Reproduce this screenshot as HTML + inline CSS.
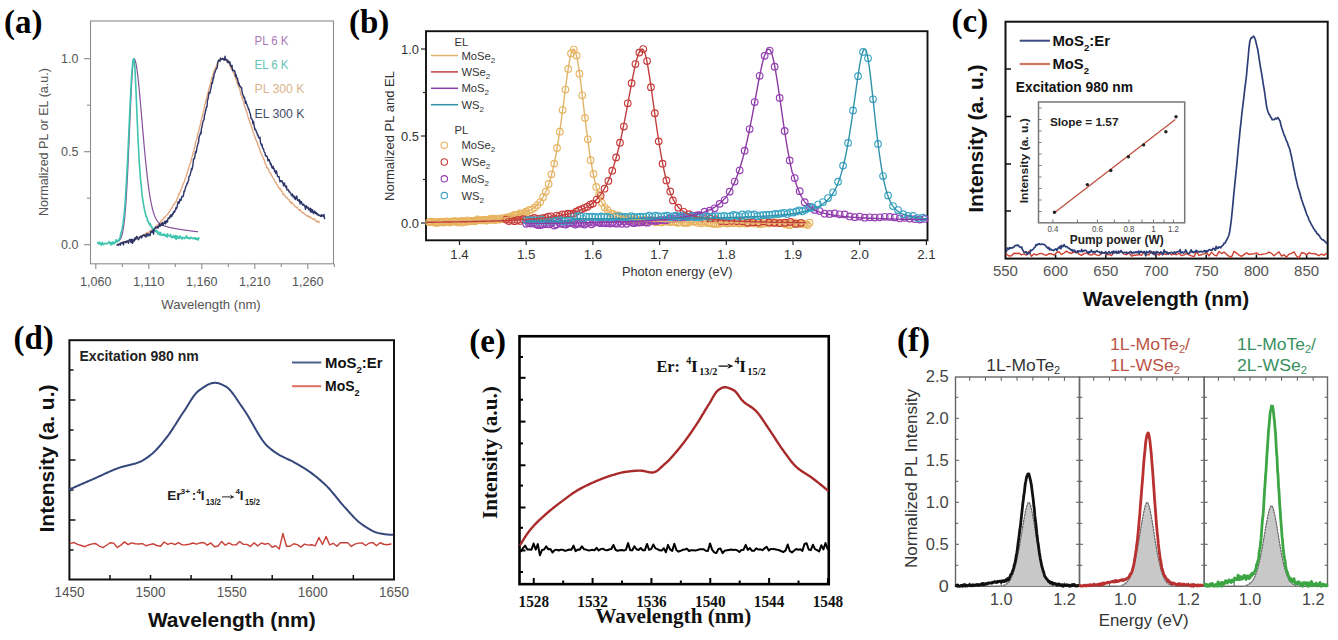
<!DOCTYPE html>
<html><head><meta charset="utf-8"><style>html,body{margin:0;padding:0;background:#fff;overflow:hidden;}svg{display:block;}</style></head>
<body><svg width="1338" height="640" viewBox="0 0 1338 640">
<rect x="0" y="0" width="1338" height="640" fill="#fff"/>
<text x="4" y="32.5" font-family="'Liberation Serif', serif" font-size="33" fill="#000" font-weight="bold" >(a)</text>
<rect x="90.5" y="21" width="243" height="242.8" fill="none" stroke="#8c8c8c" stroke-width="1.1"/>
<line x1="84" y1="244.7" x2="90.5" y2="244.7" stroke="#8c8c8c" stroke-width="1.1" />
<line x1="84" y1="151.7" x2="90.5" y2="151.7" stroke="#8c8c8c" stroke-width="1.1" />
<line x1="84" y1="58.7" x2="90.5" y2="58.7" stroke="#8c8c8c" stroke-width="1.1" />
<line x1="87" y1="198.2" x2="90.5" y2="198.2" stroke="#8c8c8c" stroke-width="1.1" />
<line x1="87" y1="105.2" x2="90.5" y2="105.2" stroke="#8c8c8c" stroke-width="1.1" />
<line x1="95.8" y1="263.8" x2="95.8" y2="269" stroke="#8c8c8c" stroke-width="1.1" />
<line x1="148.8" y1="263.8" x2="148.8" y2="269" stroke="#8c8c8c" stroke-width="1.1" />
<line x1="201.8" y1="263.8" x2="201.8" y2="269" stroke="#8c8c8c" stroke-width="1.1" />
<line x1="254.8" y1="263.8" x2="254.8" y2="269" stroke="#8c8c8c" stroke-width="1.1" />
<line x1="307.8" y1="263.8" x2="307.8" y2="269" stroke="#8c8c8c" stroke-width="1.1" />
<line x1="122.3" y1="263.8" x2="122.3" y2="267" stroke="#8c8c8c" stroke-width="1.1" />
<line x1="175.3" y1="263.8" x2="175.3" y2="267" stroke="#8c8c8c" stroke-width="1.1" />
<line x1="228.3" y1="263.8" x2="228.3" y2="267" stroke="#8c8c8c" stroke-width="1.1" />
<line x1="281.3" y1="263.8" x2="281.3" y2="267" stroke="#8c8c8c" stroke-width="1.1" />
<line x1="334.3" y1="263.8" x2="334.3" y2="267" stroke="#8c8c8c" stroke-width="1.1" />
<text x="78.5" y="249.2" font-family="'Liberation Sans', sans-serif" font-size="12.5" fill="#555" text-anchor="end" >0.0</text>
<text x="78.5" y="156.2" font-family="'Liberation Sans', sans-serif" font-size="12.5" fill="#555" text-anchor="end" >0.5</text>
<text x="78.5" y="63.2" font-family="'Liberation Sans', sans-serif" font-size="12.5" fill="#555" text-anchor="end" >1.0</text>
<text x="95.8" y="286" font-family="'Liberation Sans', sans-serif" font-size="12.5" fill="#555" text-anchor="middle" textLength="31.5" lengthAdjust="spacingAndGlyphs" >1,060</text>
<text x="148.8" y="286" font-family="'Liberation Sans', sans-serif" font-size="12.5" fill="#555" text-anchor="middle" textLength="31.5" lengthAdjust="spacingAndGlyphs" >1,110</text>
<text x="201.8" y="286" font-family="'Liberation Sans', sans-serif" font-size="12.5" fill="#555" text-anchor="middle" textLength="31.5" lengthAdjust="spacingAndGlyphs" >1,160</text>
<text x="254.8" y="286" font-family="'Liberation Sans', sans-serif" font-size="12.5" fill="#555" text-anchor="middle" textLength="31.5" lengthAdjust="spacingAndGlyphs" >1,210</text>
<text x="307.8" y="286" font-family="'Liberation Sans', sans-serif" font-size="12.5" fill="#555" text-anchor="middle" textLength="31.5" lengthAdjust="spacingAndGlyphs" >1,260</text>
<text x="211" y="309" font-family="'Liberation Sans', sans-serif" font-size="13" fill="#555" text-anchor="middle" textLength="99.5" lengthAdjust="spacingAndGlyphs" >Wavelength (nm)</text>
<text x="47.5" y="142" font-family="'Liberation Sans', sans-serif" font-size="12.6" fill="#555" text-anchor="middle" textLength="148" lengthAdjust="spacingAndGlyphs" transform="rotate(-90 47.5 142)" >Normalized PL or EL (a.u.)</text>
<text x="254.5" y="44.5" font-family="'Liberation Sans', sans-serif" font-size="12.3" fill="#a878b8" textLength="34" lengthAdjust="spacingAndGlyphs" >PL 6 K</text>
<text x="254.5" y="68.5" font-family="'Liberation Sans', sans-serif" font-size="12.3" fill="#66c4b4" textLength="34" lengthAdjust="spacingAndGlyphs" >EL 6 K</text>
<text x="254.5" y="93" font-family="'Liberation Sans', sans-serif" font-size="12.3" fill="#dcb48a" textLength="50" lengthAdjust="spacingAndGlyphs" >PL 300 K</text>
<text x="254.5" y="117.5" font-family="'Liberation Sans', sans-serif" font-size="12.3" fill="#3e4c66" textLength="50" lengthAdjust="spacingAndGlyphs" >EL 300 K</text>
<polyline points="117,244.7 117.6,244.15 118.2,244.22 118.8,244.34 119.4,243.9 120,244.01 120.6,243.23 121.2,242.34 121.8,243.18 122.4,243.08 123,242.29 123.6,242.19 124.2,242.15 124.8,242.56 125.4,241.88 126,241.3 126.6,242.26 127.2,241.59 127.8,242.21 128.4,241.69 129,241.82 129.6,240.73 130.2,241.12 130.8,240.07 131.4,239.94 132,239.94 132.6,241.04 133.2,239.73 133.8,239.25 134.4,238.95 135,239.65 135.6,238.85 136.2,238.91 136.8,238.58 137.4,237.31 138,238.12 138.6,237.44 139.2,236.68 139.8,237.25 140.4,236.73 141,236.34 141.6,236.1 142.2,236.54 142.8,235.53 143.4,234.52 144,235.84 144.6,234.19 145.2,234.29 145.8,234.39 146.4,232.58 147,232.93 147.6,233.67 148.2,232.6 148.8,231.94 149.4,231.99 150,231.1 150.6,231.11 151.2,230.28 151.8,229.42 152.4,230.15 153,229.19 153.6,229.09 154.2,228.26 154.8,228.49 155.4,227.62 156,226.86 156.6,225.68 157.2,224.96 157.8,225.73 158.4,224.81 159,223.36 159.6,224.16 160.2,222.61 160.8,221.69 161.4,220.19 162,219.73 162.6,219.73 163.2,219.17 163.8,218.5 164.4,216.88 165,217.32 165.6,216.58 166.2,215.53 166.8,215.08 167.4,214.38 168,214.13 168.6,212.73 169.2,212.16 169.8,210.43 170.4,209.85 171,209.33 171.6,208.03 172.2,207.64 172.8,205.89 173.4,205.47 174,204.1 174.6,204.08 175.2,202.06 175.8,202.06 176.4,201.09 177,198.92 177.6,198.02 178.2,196.16 178.8,193.69 179.4,194.07 180,192.57 180.6,190.7 181.2,189.09 181.8,187.97 182.4,186.46 183,184.4 183.6,182.9 184.2,182.13 184.8,179.92 185.4,178.14 186,176.99 186.6,174.47 187.2,173.26 187.8,170.37 188.4,168.9 189,167.01 189.6,165.41 190.2,163.13 190.8,162.12 191.4,159.55 192,156.59 192.6,155.82 193.2,151.97 193.8,151.19 194.4,147.53 195,146.14 195.6,142.91 196.2,140.93 196.8,139.48 197.4,135.53 198,133 198.6,131.4 199.2,129.06 199.8,126.52 200.4,124.48 201,120.82 201.6,119.23 202.2,116.43 202.8,114.33 203.4,111.71 204,109.56 204.6,105.64 205.2,103.93 205.8,100.82 206.4,98.89 207,96.85 207.6,94.23 208.2,91.99 208.8,89.33 209.4,87.26 210,84.97 210.6,83.39 211.2,80.94 211.8,77.51 212.4,76.82 213,75.12 213.6,72.52 214.2,70.19 214.8,70.14 215.4,67.91 216,66.71 216.6,66.01 217.2,63.41 217.8,62.74 218.4,61.72 219,61.34 219.6,59.96 220.2,59.94 220.8,59.28 221.4,59.51 222,59.41 222.6,57.97 223.2,59.09 223.8,58.82 224.4,59.27 225,59.85 225.6,60.33 226.2,60.22 226.8,61.35 227.4,61.96 228,62.64 228.6,62.85 229.2,64.06 229.8,65.23 230.4,66.83 231,68.44 231.6,68.35 232.2,69.61 232.8,71.56 233.4,72.58 234,73.89 234.6,75.36 235.2,76.85 235.8,79.21 236.4,79.74 237,82.94 237.6,83.47 238.2,85.41 238.8,86.96 239.4,88.18 240,90.21 240.6,93.51 241.2,95.66 241.8,96.12 242.4,99.01 243,100.34 243.6,101.75 244.2,105.03 244.8,107.18 245.4,107.75 246,109.77 246.6,111.82 247.2,113.54 247.8,115.92 248.4,118.16 249,119.26 249.6,121.56 250.2,123.77 250.8,124.39 251.4,126.52 252,128.05 252.6,130.6 253.2,132.17 253.8,134.1 254.4,135.76 255,136.85 255.6,139.08 256.2,140.1 256.8,141.75 257.4,142.43 258,145.94 258.6,146.24 259.2,148.34 259.8,149.83 260.4,152.14 261,153.07 261.6,153.86 262.2,155.77 262.8,157.1 263.4,158.7 264,159.27 264.6,161.28 265.2,163.83 265.8,164.3 266.4,166.3 267,168.28 267.6,168.01 268.2,168.19 268.8,170.11 269.4,171.98 270,173.01 270.6,173 271.2,174.66 271.8,175.83 272.4,176.97 273,177.98 273.6,178.6 274.2,179.76 274.8,180.96 275.4,182.65 276,182.76 276.6,184.38 277.2,184.33 277.8,186.57 278.4,186.84 279,187.66 279.6,189.26 280.2,188.42 280.8,189.41 281.4,191.31 282,191.43 282.6,192.44 283.2,194.9 283.8,194.07 284.4,194.99 285,195.65 285.6,197.03 286.2,197.29 286.8,197.94 287.4,197.87 288,199.02 288.6,199.87 289.2,199.67 289.8,201.47 290.4,202.01 291,203.42 291.6,202.14 292.2,203.07 292.8,203.68 293.4,204.4 294,205.27 294.6,205.77 295.2,206.57 295.8,207.08 296.4,207.47 297,207.17 297.6,208.21 298.2,209.05 298.8,209.84 299.4,210.35 300,209.57 300.6,210.65 301.2,211.36 301.8,212.04 302.4,212.91 303,212.76 303.6,212.66 304.2,213.79 304.8,214.11 305.4,214.52 306,214.73 306.6,216.08 307.2,215.71 307.8,216.43 308.4,215.84 309,217.13 309.6,216.74 310.2,216.57 310.8,217.95 311.4,218.45 312,218.35 312.6,218.8 313.2,219.68 313.8,219.19 314.4,218.64 315,220.23 315.6,220.51 316.2,221.28 316.8,220.82 317.4,221.99 318,222.2 318.6,221.16 319.2,222.66" fill="none" stroke="#e2a47a" stroke-width="1.3" stroke-linejoin="round" stroke-linecap="round" />
<polyline points="119,240.75 119.5,240.23 120,239.59 120.5,238.77 121,237.75 121.5,236.46 122,234.85 122.5,232.84 123,230.37 123.5,227.36 124,223.73 124.5,219.38 125,214.26 125.5,208.29 126,201.43 126.5,193.66 127,184.96 127.5,175.4 128,165.03 128.5,153.98 129,142.41 129.5,130.54 130,118.6 130.5,106.89 131,95.73 131.5,85.45 132,76.41 132.5,68.93 133,63.34 133.5,59.87 134,58.7 134.5,59.02 135,59.98 135.5,61.57 136,63.75 136.5,66.5 137,69.78 137.5,73.55 138,77.75 138.5,82.34 139,87.26 139.5,92.47 140,97.91 140.5,103.52 141,109.27 141.5,115.1 142,120.97 142.5,126.84 143,132.67 143.5,138.42 144,144.07 144.5,149.59 145,154.95 145.5,160.13 146,165.11 146.5,169.87 147,174.42 147.5,178.73 148,182.8 148.5,186.63 149,190.22 149.5,193.58 150,196.69 150.5,199.58 151,202.24 151.5,204.69 152,206.94 152.5,208.99 153,210.85 153.5,212.55 154,214.08 154.5,215.46 155,216.71 155.5,217.83 156,218.83 156.5,219.73 157,220.53 157.5,221.24 158,221.88 158.5,222.44 159,222.94 159.5,223.39 160,223.79 160.5,224.14 161,224.46 161.5,224.74 162,224.99 162.5,225.21 163,225.42 163.5,225.6 164,225.77 164.5,225.92 165,226.05 165.5,226.23 166,226.39 166.5,226.55 167,226.69 167.5,226.83 168,226.97 168.5,227.1 169,227.22 169.5,227.34 170,227.46 170.5,227.57 171,227.68 171.5,227.79 172,227.89 172.5,227.99 173,228.09 173.5,228.19 174,228.29 174.5,228.38 175,228.48 175.5,228.57 176,228.66 176.5,228.75 177,228.83 177.5,228.92 178,229 178.5,229.09 179,229.17 179.5,229.25 180,229.33 180.5,229.41 181,229.49 181.5,229.57 182,229.64 182.5,229.72 183,229.79 183.5,229.87 184,229.94 184.5,230.01 185,230.09 185.5,230.16 186,230.23 186.5,230.3 187,230.37 187.5,230.44 188,230.5 188.5,230.57 189,230.64 189.5,230.71 190,230.77 190.5,230.84 191,230.9 191.5,230.97 192,231.03 192.5,231.1 193,231.16 193.5,231.23 194,231.29 194.5,231.35 195,231.41 195.5,231.48 196,231.54 196.5,231.6 197,231.66 197.5,231.72" fill="none" stroke="#86509a" stroke-width="1.2" stroke-linejoin="round" stroke-linecap="round" />
<polyline points="97.6,243 98.1,242.57 98.6,243.72 99.1,243.43 99.6,242.11 100.1,244.08 100.6,244.42 101.1,245.1 101.6,243.78 102.1,242.42 102.6,242.88 103.1,244.61 103.6,244.5 104.1,244.14 104.6,243.37 105.1,243.79 105.6,243.37 106.1,243.25 106.6,243.76 107.1,243.48 107.6,243.2 108.1,243.42 108.6,242.83 109.1,241.51 109.6,242.63 110.1,243.06 110.6,244.6 111.1,242.62 111.6,244.7 112.1,244.12 112.6,241.95 113.1,241.99 113.6,242.67 114.1,243.98 114.6,242.61 115.1,242.74 115.6,241.35 116.1,239.66 116.6,241.27 117.1,241.87 117.6,241.85 118.1,240.36 118.6,239.9 119.1,240.06 119.6,238.03 120.1,238.06 120.6,234.69 121.1,233.07 121.6,231.03 122.1,229.92 122.6,226.12 123.1,223.15 123.6,219.22 124.1,214.35 124.6,209.51 125.1,203.25 125.6,194.55 126.1,187.3 126.6,178.36 127.1,168.53 127.6,159.91 128.1,148.84 128.6,137.49 129.1,126.32 129.6,115.48 130.1,104.33 130.6,94.25 131.1,84.98 131.6,76.52 132.1,69.37 132.6,63.99 133.1,60.43 133.6,58.79 134.1,59.65 134.6,64.15 135.1,71.95 135.6,82.07 136.1,93.79 136.6,105.11 137.1,117.85 137.6,128.75 138.1,140.33 138.6,149.77 139.1,159.52 139.6,166.74 140.1,172.93 140.6,180.48 141.1,184.48 141.6,189.79 142.1,195.04 142.6,198.47 143.1,201.83 143.6,204.53 144.1,207.59 144.6,210.23 145.1,211.99 145.6,214.51 146.1,216.48 146.6,217.07 147.1,217.74 147.6,221.04 148.1,220.96 148.6,222.6 149.1,223.88 149.6,223.24 150.1,225.25 150.6,224.29 151.1,226.97 151.6,226.62 152.1,227.76 152.6,228.79 153.1,228.15 153.6,229.29 154.1,229.08 154.6,230.08 155.1,231.4 155.6,230.9 156.1,231.12 156.6,230.64 157.1,232.61 157.6,232.13 158.1,233.91 158.6,232.05 159.1,233.85 159.6,234.73 160.1,233.38 160.6,232.54 161.1,235.1 161.6,234.9 162.1,234.76 162.6,235.28 163.1,234.08 163.6,235.3 164.1,235.37 164.6,234.33 165.1,235.67 165.6,234.72 166.1,236.12 166.6,236.45 167.1,237.13 167.6,233.87 168.1,235.96 168.6,235.54 169.1,235.88 169.6,235.8 170.1,235.98 170.6,234.36 171.1,237.14 171.6,237.69 172.1,237.26 172.6,237.63 173.1,235.79 173.6,235.79 174.1,237.48 174.6,237.94 175.1,237.05 175.6,235.5 176.1,239.42 176.6,236.4 177.1,237.92 177.6,236.03 178.1,238.02 178.6,237.34 179.1,238.51 179.6,238.06 180.1,235.93 180.6,236.49 181.1,237.65 181.6,238.12 182.1,239.1 182.6,237.76 183.1,237.46 183.6,237.54 184.1,237.58 184.6,238.56 185.1,237.62 185.6,237.62 186.1,236.43 186.6,235.92 187.1,237.8 187.6,238.4 188.1,237.78 188.6,238.31 189.1,238.46 189.6,237.85 190.1,238.78 190.6,237.28 191.1,237.96 191.6,237.66 192.1,238.08 192.6,238.6 193.1,238.82 193.6,238.19 194.1,238.49 194.6,237.79 195.1,238.03 195.6,239.3 196.1,237.99 196.6,239.32 197.1,238.66 197.6,238.38 198.1,240.04 198.6,238.05 199.1,238.01" fill="none" stroke="#3cc4ae" stroke-width="1.6" stroke-linejoin="round" stroke-linecap="round" />
<polyline points="117,244.91 117.5,244.94 118,244.68 118.5,245.29 119,244.21 119.5,244.42 120,243.44 120.5,244.98 121,242.97 121.5,242.95 122,243.19 122.5,243.44 123,242.02 123.5,244.77 124,241.87 124.5,242.02 125,241.84 125.5,241.57 126,242.79 126.5,242.14 127,240.84 127.5,240.97 128,241.13 128.5,243.23 129,240.42 129.5,239.45 130,239.52 130.5,240.39 131,242.57 131.5,239.17 132,240.44 132.5,243.4 133,239.45 133.5,241.73 134,241.32 134.5,240.3 135,237.66 135.5,239.63 136,238.63 136.5,236.54 137,236.57 137.5,238.6 138,238.61 138.5,239.75 139,238.83 139.5,237.19 140,237.04 140.5,237.21 141,235.87 141.5,237.97 142,236.83 142.5,235.6 143,235.58 143.5,234.73 144,235.38 144.5,236.08 145,234.97 145.5,236.52 146,237.11 146.5,233.97 147,234.55 147.5,233.82 148,236.17 148.5,234.17 149,234.2 149.5,234.26 150,235.79 150.5,232.99 151,231.09 151.5,231.45 152,232.41 152.5,231.32 153,229.98 153.5,234.22 154,230.44 154.5,229.21 155,228.66 155.5,226.95 156,227.29 156.5,227.96 157,227.56 157.5,226.65 158,228.09 158.5,227.15 159,225.61 159.5,223.93 160,226.37 160.5,225.89 161,225.23 161.5,223.39 162,224.82 162.5,222.5 163,225.29 163.5,223.87 164,223.48 164.5,221.78 165,221.01 165.5,223.9 166,222.66 166.5,220.56 167,221.37 167.5,221.99 168,218.14 168.5,218.32 169,217.77 169.5,218.46 170,215.92 170.5,216.97 171,214.61 171.5,216.59 172,215.86 172.5,213.8 173,214.29 173.5,211.78 174,211.58 174.5,212.36 175,210.28 175.5,210.03 176,207.55 176.5,208.72 177,207.59 177.5,204.54 178,202.28 178.5,201.64 179,203.19 179.5,201.98 180,199.24 180.5,200.34 181,200.37 181.5,197.83 182,196.26 182.5,196.76 183,196.62 183.5,195.12 184,191.13 184.5,191.69 185,189.57 185.5,187.76 186,185.85 186.5,185.68 187,183.16 187.5,183.49 188,181.3 188.5,180.62 189,176.25 189.5,176.16 190,175.45 190.5,173.28 191,171.42 191.5,168.49 192,169.73 192.5,167.21 193,164.53 193.5,158.89 194,159.07 194.5,158.55 195,155.54 195.5,151.82 196,152.81 196.5,150.96 197,146.86 197.5,145.72 198,143.39 198.5,142.81 199,137.5 199.5,135.61 200,134.92 200.5,132.56 201,133.87 201.5,128.17 202,127 202.5,123.92 203,121.33 203.5,120.38 204,119.85 204.5,114.88 205,114.04 205.5,111.21 206,109.28 206.5,106.66 207,106.95 207.5,100.11 208,99.12 208.5,95.78 209,92.45 209.5,92.83 210,93.06 210.5,89.77 211,88.11 211.5,85.16 212,82.42 212.5,83.2 213,78.27 213.5,78.87 214,74.76 214.5,73.6 215,72.25 215.5,70.4 216,69.54 216.5,68.26 217,68.37 217.5,65.02 218,61.48 218.5,60.3 219,60.26 219.5,60.26 220,61.37 220.5,58.03 221,59.52 221.5,59.18 222,59.23 222.5,58.6 223,59.27 223.5,58.86 224,60.26 224.5,59.49 225,56.24 225.5,59.56 226,60.08 226.5,59.44 227,59.62 227.5,62.45 228,61.78 228.5,60.87 229,62.32 229.5,63.16 230,61.99 230.5,65.63 231,65.42 231.5,67.03 232,65.28 232.5,70.66 233,69.93 233.5,70.73 234,70.18 234.5,71.31 235,71.36 235.5,76.33 236,74.44 236.5,76.97 237,78.65 237.5,78.3 238,81.44 238.5,84.21 239,83.27 239.5,86.04 240,86.26 240.5,86.27 241,87.7 241.5,87.41 242,91.11 242.5,94.24 243,94.63 243.5,96.25 244,98.05 244.5,97.32 245,100.16 245.5,103.32 246,101.28 246.5,103.77 247,104.6 247.5,106.36 248,107.11 248.5,109.32 249,109.19 249.5,111.68 250,113.15 250.5,114.55 251,118.39 251.5,118.12 252,119.65 252.5,120.43 253,123.86 253.5,121.34 254,124.71 254.5,127.78 255,129.78 255.5,129.26 256,130.34 256.5,132.48 257,132.74 257.5,134.99 258,134.72 258.5,137.66 259,138.03 259.5,137.96 260,137.12 260.5,143.01 261,143.51 261.5,145.2 262,144.27 262.5,147.96 263,148.26 263.5,148.82 264,151.19 264.5,152.28 265,152.76 265.5,155.97 266,156.2 266.5,155.93 267,156.25 267.5,157.73 268,160.83 268.5,160.14 269,159.5 269.5,160.8 270,162.61 270.5,164.63 271,163.6 271.5,166.12 272,167.82 272.5,168.25 273,166.23 273.5,168.72 274,168.37 274.5,171.38 275,170.39 275.5,173.23 276,173.49 276.5,170.87 277,173.92 277.5,176.37 278,176.61 278.5,176.85 279,176.47 279.5,179.44 280,181.81 280.5,180.65 281,180.99 281.5,181.58 282,180.71 282.5,182.71 283,182.75 283.5,185.91 284,184.02 284.5,183.07 285,185.45 285.5,186.76 286,187.52 286.5,186.01 287,190.16 287.5,189.7 288,189.55 288.5,189.77 289,191.89 289.5,191.49 290,192.81 290.5,192.85 291,193.73 291.5,195.58 292,194.66 292.5,194.01 293,196.93 293.5,196.5 294,195.82 294.5,198.58 295,197.43 295.5,199.54 296,197.16 296.5,196.09 297,196.93 297.5,200.31 298,199.51 298.5,200.76 299,201.23 299.5,199.78 300,203.94 300.5,201.27 301,203.12 301.5,201.64 302,203.63 302.5,205.15 303,204.31 303.5,204.1 304,205.39 304.5,205.18 305,206.87 305.5,209.34 306,205.76 306.5,206.38 307,207.45 307.5,207.9 308,206.99 308.5,209.27 309,209.93 309.5,209.59 310,208.13 310.5,211.81 311,208.77 311.5,211.47 312,212.38 312.5,209.61 313,211.68 313.5,213.55 314,212.62 314.5,211.23 315,211.18 315.5,213.58 316,212.77 316.5,212.65 317,214.7 317.5,213.67 318,214.44 318.5,215.36 319,215.56 319.5,215.09 320,215.4 320.5,216.42 321,216.49 321.5,214.73 322,216.15 322.5,215.51 323,215.34 323.5,216.37 324,214.41 324.5,218.67" fill="none" stroke="#2c3468" stroke-width="1.4" stroke-linejoin="round" stroke-linecap="round" />
<text x="349" y="32.8" font-family="'Liberation Serif', serif" font-size="33" fill="#000" font-weight="bold" >(b)</text>
<rect x="426" y="31.2" width="501.5" height="209.1" fill="none" stroke="#111" stroke-width="1.9"/>
<line x1="421" y1="223" x2="426" y2="223" stroke="#222" stroke-width="1.2" />
<line x1="421" y1="136" x2="426" y2="136" stroke="#222" stroke-width="1.2" />
<line x1="421" y1="49" x2="426" y2="49" stroke="#222" stroke-width="1.2" />
<line x1="423" y1="179.5" x2="426" y2="179.5" stroke="#222" stroke-width="1.2" />
<line x1="423" y1="92.5" x2="426" y2="92.5" stroke="#222" stroke-width="1.2" />
<line x1="459.5" y1="240.3" x2="459.5" y2="245" stroke="#222" stroke-width="1.2" />
<line x1="526.2" y1="240.3" x2="526.2" y2="245" stroke="#222" stroke-width="1.2" />
<line x1="592.9" y1="240.3" x2="592.9" y2="245" stroke="#222" stroke-width="1.2" />
<line x1="659.6" y1="240.3" x2="659.6" y2="245" stroke="#222" stroke-width="1.2" />
<line x1="726.3" y1="240.3" x2="726.3" y2="245" stroke="#222" stroke-width="1.2" />
<line x1="793" y1="240.3" x2="793" y2="245" stroke="#222" stroke-width="1.2" />
<line x1="859.7" y1="240.3" x2="859.7" y2="245" stroke="#222" stroke-width="1.2" />
<line x1="926.4" y1="240.3" x2="926.4" y2="245" stroke="#222" stroke-width="1.2" />
<text x="419" y="227.5" font-family="'Liberation Sans', sans-serif" font-size="12.5" fill="#333" text-anchor="end" textLength="18" lengthAdjust="spacingAndGlyphs" >0.0</text>
<text x="419" y="140.5" font-family="'Liberation Sans', sans-serif" font-size="12.5" fill="#333" text-anchor="end" textLength="18" lengthAdjust="spacingAndGlyphs" >0.5</text>
<text x="419" y="53.5" font-family="'Liberation Sans', sans-serif" font-size="12.5" fill="#333" text-anchor="end" textLength="18" lengthAdjust="spacingAndGlyphs" >1.0</text>
<text x="459.5" y="258.9" font-family="'Liberation Sans', sans-serif" font-size="12.8" fill="#333" text-anchor="middle" textLength="18.5" lengthAdjust="spacingAndGlyphs" >1.4</text>
<text x="526.2" y="258.9" font-family="'Liberation Sans', sans-serif" font-size="12.8" fill="#333" text-anchor="middle" textLength="18.5" lengthAdjust="spacingAndGlyphs" >1.5</text>
<text x="592.9" y="258.9" font-family="'Liberation Sans', sans-serif" font-size="12.8" fill="#333" text-anchor="middle" textLength="18.5" lengthAdjust="spacingAndGlyphs" >1.6</text>
<text x="659.6" y="258.9" font-family="'Liberation Sans', sans-serif" font-size="12.8" fill="#333" text-anchor="middle" textLength="18.5" lengthAdjust="spacingAndGlyphs" >1.7</text>
<text x="726.3" y="258.9" font-family="'Liberation Sans', sans-serif" font-size="12.8" fill="#333" text-anchor="middle" textLength="18.5" lengthAdjust="spacingAndGlyphs" >1.8</text>
<text x="793" y="258.9" font-family="'Liberation Sans', sans-serif" font-size="12.8" fill="#333" text-anchor="middle" textLength="18.5" lengthAdjust="spacingAndGlyphs" >1.9</text>
<text x="859.7" y="258.9" font-family="'Liberation Sans', sans-serif" font-size="12.8" fill="#333" text-anchor="middle" textLength="18.5" lengthAdjust="spacingAndGlyphs" >2.0</text>
<text x="926.4" y="258.9" font-family="'Liberation Sans', sans-serif" font-size="12.8" fill="#333" text-anchor="middle" textLength="18.5" lengthAdjust="spacingAndGlyphs" >2.1</text>
<text x="677.2" y="276.3" font-family="'Liberation Sans', sans-serif" font-size="12.8" fill="#333" text-anchor="middle" textLength="110.5" lengthAdjust="spacingAndGlyphs" >Photon energy (eV)</text>
<text x="394" y="136" font-family="'Liberation Sans', sans-serif" font-size="12.8" fill="#333" text-anchor="middle" textLength="130" lengthAdjust="spacingAndGlyphs" transform="rotate(-90 394 136)" >Normalized PL and EL</text>
<text x="454.5" y="46" font-family="'Liberation Sans', sans-serif" font-size="11.2" fill="#333" >EL</text>
<line x1="431" y1="55.5" x2="458" y2="55.5" stroke="#e2b46a" stroke-width="1.5" />
<text x="461.5" y="59.5" font-family="'Liberation Sans', sans-serif" font-size="11.2" fill="#333" >MoSe<tspan font-size="8" dy="3">2</tspan></text>
<line x1="431" y1="71.9" x2="458" y2="71.9" stroke="#c04040" stroke-width="1.5" />
<text x="461.5" y="75.9" font-family="'Liberation Sans', sans-serif" font-size="11.2" fill="#333" >WSe<tspan font-size="8" dy="3">2</tspan></text>
<line x1="431" y1="88.3" x2="458" y2="88.3" stroke="#8c3aa4" stroke-width="1.5" />
<text x="461.5" y="92.3" font-family="'Liberation Sans', sans-serif" font-size="11.2" fill="#333" >MoS<tspan font-size="8" dy="3">2</tspan></text>
<line x1="431" y1="104.7" x2="458" y2="104.7" stroke="#3092aa" stroke-width="1.5" />
<text x="461.5" y="108.7" font-family="'Liberation Sans', sans-serif" font-size="11.2" fill="#333" >WS<tspan font-size="8" dy="3">2</tspan></text>
<text x="454.5" y="134" font-family="'Liberation Sans', sans-serif" font-size="11.2" fill="#333" >PL</text>
<circle cx="444.3" cy="145.2" r="3.2" fill="none" stroke="#e8b460" stroke-width="1.1"/>
<text x="461.5" y="149.2" font-family="'Liberation Sans', sans-serif" font-size="11.2" fill="#333" >MoSe<tspan font-size="8" dy="3">2</tspan></text>
<circle cx="444.3" cy="162" r="3.2" fill="none" stroke="#c83a3a" stroke-width="1.1"/>
<text x="461.5" y="166" font-family="'Liberation Sans', sans-serif" font-size="11.2" fill="#333" >WSe<tspan font-size="8" dy="3">2</tspan></text>
<circle cx="444.3" cy="178.8" r="3.2" fill="none" stroke="#9640b4" stroke-width="1.1"/>
<text x="461.5" y="182.8" font-family="'Liberation Sans', sans-serif" font-size="11.2" fill="#333" >MoS<tspan font-size="8" dy="3">2</tspan></text>
<circle cx="444.3" cy="195.6" r="3.2" fill="none" stroke="#3aa4c4" stroke-width="1.1"/>
<text x="461.5" y="199.6" font-family="'Liberation Sans', sans-serif" font-size="11.2" fill="#333" >WS<tspan font-size="8" dy="3">2</tspan></text>
<g fill="none" stroke="#e8b460" stroke-width="1.15"><circle cx="429.08" cy="222.14" r="3.3"/><circle cx="430.55" cy="221.55" r="3.3"/><circle cx="432.02" cy="221.74" r="3.3"/><circle cx="433.49" cy="221.89" r="3.3"/><circle cx="434.95" cy="222.52" r="3.3"/><circle cx="436.42" cy="222.94" r="3.3"/><circle cx="437.89" cy="221.94" r="3.3"/><circle cx="439.36" cy="222.52" r="3.3"/><circle cx="440.82" cy="221.55" r="3.3"/><circle cx="442.29" cy="221.95" r="3.3"/><circle cx="443.76" cy="222.58" r="3.3"/><circle cx="445.23" cy="221.84" r="3.3"/><circle cx="446.69" cy="221.49" r="3.3"/><circle cx="448.16" cy="221.82" r="3.3"/><circle cx="449.63" cy="222.45" r="3.3"/><circle cx="451.1" cy="221.68" r="3.3"/><circle cx="452.56" cy="221.57" r="3.3"/><circle cx="454.03" cy="221.2" r="3.3"/><circle cx="455.5" cy="221.22" r="3.3"/><circle cx="456.97" cy="222.31" r="3.3"/><circle cx="458.43" cy="221.97" r="3.3"/><circle cx="459.9" cy="221.15" r="3.3"/><circle cx="461.37" cy="222.7" r="3.3"/><circle cx="462.83" cy="220.92" r="3.3"/><circle cx="464.3" cy="221.98" r="3.3"/><circle cx="465.77" cy="221.63" r="3.3"/><circle cx="467.24" cy="220.27" r="3.3"/><circle cx="468.7" cy="221.25" r="3.3"/><circle cx="470.17" cy="221.35" r="3.3"/><circle cx="471.64" cy="220.87" r="3.3"/><circle cx="473.11" cy="221.05" r="3.3"/><circle cx="474.57" cy="221.34" r="3.3"/><circle cx="476.04" cy="220.65" r="3.3"/><circle cx="477.51" cy="219.25" r="3.3"/><circle cx="478.98" cy="220.01" r="3.3"/><circle cx="480.44" cy="220.25" r="3.3"/><circle cx="481.91" cy="220.28" r="3.3"/><circle cx="483.38" cy="219.8" r="3.3"/><circle cx="484.85" cy="219.81" r="3.3"/><circle cx="486.31" cy="220.73" r="3.3"/><circle cx="487.78" cy="219.66" r="3.3"/><circle cx="489.25" cy="219.85" r="3.3"/><circle cx="490.72" cy="218.56" r="3.3"/><circle cx="492.18" cy="219.76" r="3.3"/><circle cx="493.65" cy="218.6" r="3.3"/><circle cx="495.12" cy="220.12" r="3.3"/><circle cx="496.59" cy="218.93" r="3.3"/><circle cx="498.05" cy="219.47" r="3.3"/><circle cx="499.52" cy="219.41" r="3.3"/><circle cx="500.99" cy="218.06" r="3.3"/><circle cx="502.45" cy="219.09" r="3.3"/><circle cx="503.92" cy="218.28" r="3.3"/><circle cx="505.39" cy="218.44" r="3.3"/><circle cx="506.86" cy="217.44" r="3.3"/><circle cx="508.32" cy="217.26" r="3.3"/><circle cx="509.79" cy="218.68" r="3.3"/><circle cx="511.26" cy="216.4" r="3.3"/><circle cx="512.73" cy="216.99" r="3.3"/><circle cx="514.19" cy="214.84" r="3.3"/><circle cx="515.66" cy="215.26" r="3.3"/><circle cx="517.13" cy="214.82" r="3.3"/><circle cx="518.6" cy="216.71" r="3.3"/><circle cx="520.06" cy="213.4" r="3.3"/><circle cx="521.53" cy="214.09" r="3.3"/><circle cx="523" cy="214.52" r="3.3"/><circle cx="524.47" cy="212.82" r="3.3"/><circle cx="525.93" cy="211.53" r="3.3"/><circle cx="526.2" cy="213.39" r="3.3"/><circle cx="529" cy="210.2" r="3.3"/><circle cx="531.8" cy="209.5" r="3.3"/><circle cx="534.6" cy="207.65" r="3.3"/><circle cx="537.41" cy="205.01" r="3.3"/><circle cx="540.21" cy="202.05" r="3.3"/><circle cx="543.01" cy="197.15" r="3.3"/><circle cx="545.81" cy="191.62" r="3.3"/><circle cx="548.61" cy="183.9" r="3.3"/><circle cx="551.41" cy="174.33" r="3.3"/><circle cx="554.21" cy="163.61" r="3.3"/><circle cx="557.02" cy="147.89" r="3.3"/><circle cx="559.82" cy="131.65" r="3.3"/><circle cx="562.62" cy="110.06" r="3.3"/><circle cx="565.42" cy="89.58" r="3.3"/><circle cx="568.22" cy="68.95" r="3.3"/><circle cx="571.02" cy="53.47" r="3.3"/><circle cx="573.82" cy="49.53" r="3.3"/><circle cx="576.63" cy="55.62" r="3.3"/><circle cx="579.43" cy="73.65" r="3.3"/><circle cx="582.23" cy="95.27" r="3.3"/><circle cx="585.03" cy="117.9" r="3.3"/><circle cx="587.83" cy="139.31" r="3.3"/><circle cx="590.63" cy="160.24" r="3.3"/><circle cx="593.43" cy="173.97" r="3.3"/><circle cx="596.23" cy="186.92" r="3.3"/><circle cx="599.04" cy="194.51" r="3.3"/><circle cx="601.84" cy="202.65" r="3.3"/><circle cx="604.64" cy="207.3" r="3.3"/><circle cx="607.44" cy="209.9" r="3.3"/><circle cx="610.24" cy="213.09" r="3.3"/><circle cx="613.04" cy="213.92" r="3.3"/><circle cx="615.84" cy="215.3" r="3.3"/><circle cx="618.65" cy="215.35" r="3.3"/><circle cx="619.58" cy="216.3" r="3.3"/><circle cx="621.58" cy="217.94" r="3.3"/><circle cx="623.58" cy="218.46" r="3.3"/><circle cx="625.58" cy="218.66" r="3.3"/><circle cx="627.58" cy="219.8" r="3.3"/><circle cx="629.58" cy="220.21" r="3.3"/><circle cx="631.59" cy="217.64" r="3.3"/><circle cx="633.59" cy="219.92" r="3.3"/><circle cx="635.59" cy="218.75" r="3.3"/><circle cx="637.59" cy="220.37" r="3.3"/><circle cx="639.59" cy="220.36" r="3.3"/><circle cx="641.59" cy="221.44" r="3.3"/><circle cx="643.59" cy="219.61" r="3.3"/><circle cx="645.59" cy="220.9" r="3.3"/><circle cx="647.59" cy="219.66" r="3.3"/><circle cx="649.59" cy="221.42" r="3.3"/><circle cx="651.6" cy="220.2" r="3.3"/><circle cx="653.6" cy="220.19" r="3.3"/><circle cx="655.6" cy="222.34" r="3.3"/><circle cx="657.6" cy="221.12" r="3.3"/><circle cx="659.6" cy="222.23" r="3.3"/><circle cx="661.6" cy="222.41" r="3.3"/><circle cx="663.6" cy="221.63" r="3.3"/><circle cx="665.6" cy="221.24" r="3.3"/><circle cx="667.6" cy="220.95" r="3.3"/><circle cx="669.6" cy="222.18" r="3.3"/><circle cx="671.61" cy="221.34" r="3.3"/><circle cx="673.61" cy="221.7" r="3.3"/><circle cx="675.61" cy="222.15" r="3.3"/><circle cx="677.61" cy="222.85" r="3.3"/><circle cx="679.61" cy="222.23" r="3.3"/><circle cx="681.61" cy="219.9" r="3.3"/><circle cx="683.61" cy="223" r="3.3"/><circle cx="685.61" cy="222.53" r="3.3"/><circle cx="687.61" cy="223.07" r="3.3"/><circle cx="689.61" cy="221.55" r="3.3"/><circle cx="691.62" cy="221.3" r="3.3"/><circle cx="693.62" cy="221.65" r="3.3"/><circle cx="695.62" cy="221.25" r="3.3"/><circle cx="697.62" cy="222.7" r="3.3"/><circle cx="699.62" cy="221.53" r="3.3"/><circle cx="701.62" cy="223.28" r="3.3"/><circle cx="703.62" cy="221.67" r="3.3"/><circle cx="705.62" cy="221.75" r="3.3"/><circle cx="707.62" cy="223.23" r="3.3"/><circle cx="709.62" cy="222.17" r="3.3"/><circle cx="711.63" cy="223.59" r="3.3"/><circle cx="713.63" cy="223.84" r="3.3"/><circle cx="715.63" cy="223.86" r="3.3"/><circle cx="717.63" cy="223.68" r="3.3"/><circle cx="719.63" cy="223.73" r="3.3"/><circle cx="721.63" cy="223.04" r="3.3"/><circle cx="723.63" cy="221.78" r="3.3"/><circle cx="725.63" cy="223.18" r="3.3"/><circle cx="727.63" cy="223.61" r="3.3"/><circle cx="729.63" cy="222.57" r="3.3"/><circle cx="731.64" cy="223.23" r="3.3"/><circle cx="733.64" cy="223.01" r="3.3"/><circle cx="735.64" cy="222.82" r="3.3"/><circle cx="737.64" cy="222.8" r="3.3"/><circle cx="739.64" cy="223.59" r="3.3"/><circle cx="741.64" cy="223.3" r="3.3"/><circle cx="743.64" cy="222.5" r="3.3"/><circle cx="745.64" cy="223.42" r="3.3"/><circle cx="747.64" cy="223.34" r="3.3"/><circle cx="749.64" cy="222.97" r="3.3"/><circle cx="751.65" cy="222.9" r="3.3"/><circle cx="753.65" cy="223.43" r="3.3"/><circle cx="755.65" cy="222.83" r="3.3"/><circle cx="757.65" cy="223.23" r="3.3"/><circle cx="759.65" cy="224.15" r="3.3"/><circle cx="761.65" cy="222.8" r="3.3"/><circle cx="763.65" cy="223.86" r="3.3"/><circle cx="765.65" cy="221.14" r="3.3"/><circle cx="767.65" cy="223.07" r="3.3"/><circle cx="769.65" cy="223.48" r="3.3"/><circle cx="771.66" cy="222.7" r="3.3"/><circle cx="773.66" cy="222.28" r="3.3"/><circle cx="775.66" cy="222.25" r="3.3"/><circle cx="777.66" cy="223.1" r="3.3"/><circle cx="779.66" cy="222.58" r="3.3"/><circle cx="781.66" cy="222.84" r="3.3"/><circle cx="783.66" cy="223.27" r="3.3"/><circle cx="785.66" cy="224.39" r="3.3"/><circle cx="787.66" cy="223.33" r="3.3"/><circle cx="789.66" cy="225.14" r="3.3"/><circle cx="791.67" cy="223.98" r="3.3"/><circle cx="793.67" cy="222.42" r="3.3"/><circle cx="795.67" cy="223.25" r="3.3"/><circle cx="797.67" cy="223.41" r="3.3"/><circle cx="799.67" cy="223.99" r="3.3"/><circle cx="801.67" cy="223.98" r="3.3"/><circle cx="803.67" cy="223.87" r="3.3"/><circle cx="805.67" cy="224.37" r="3.3"/><circle cx="807.67" cy="224.99" r="3.3"/><circle cx="809.67" cy="222.69" r="3.3"/></g>
<g fill="none" stroke="#c83a3a" stroke-width="1.15"><circle cx="506.19" cy="219.56" r="3.3"/><circle cx="508.99" cy="221.03" r="3.3"/><circle cx="511.79" cy="219.92" r="3.3"/><circle cx="514.59" cy="221.17" r="3.3"/><circle cx="517.4" cy="219.92" r="3.3"/><circle cx="520.2" cy="220.97" r="3.3"/><circle cx="523" cy="219.2" r="3.3"/><circle cx="525.8" cy="219.61" r="3.3"/><circle cx="528.6" cy="220.34" r="3.3"/><circle cx="531.4" cy="218.86" r="3.3"/><circle cx="534.2" cy="217.87" r="3.3"/><circle cx="537.01" cy="218.77" r="3.3"/><circle cx="539.81" cy="218.54" r="3.3"/><circle cx="542.61" cy="218.22" r="3.3"/><circle cx="545.41" cy="217.84" r="3.3"/><circle cx="548.21" cy="216.72" r="3.3"/><circle cx="551.01" cy="216.33" r="3.3"/><circle cx="553.81" cy="218.3" r="3.3"/><circle cx="556.62" cy="215.56" r="3.3"/><circle cx="559.42" cy="216.07" r="3.3"/><circle cx="562.22" cy="214.25" r="3.3"/><circle cx="565.02" cy="214.51" r="3.3"/><circle cx="567.82" cy="213.53" r="3.3"/><circle cx="570.62" cy="213.85" r="3.3"/><circle cx="573.42" cy="213.64" r="3.3"/><circle cx="576.22" cy="211.65" r="3.3"/><circle cx="579.03" cy="210.15" r="3.3"/><circle cx="581.83" cy="209.17" r="3.3"/><circle cx="584.63" cy="207.82" r="3.3"/><circle cx="587.43" cy="206.68" r="3.3"/><circle cx="590.23" cy="204.54" r="3.3"/><circle cx="592.9" cy="203.59" r="3.3"/><circle cx="596.77" cy="199.5" r="3.3"/><circle cx="600.64" cy="195.81" r="3.3"/><circle cx="604.51" cy="188.68" r="3.3"/><circle cx="608.37" cy="180.99" r="3.3"/><circle cx="612.24" cy="170.68" r="3.3"/><circle cx="616.11" cy="157.38" r="3.3"/><circle cx="619.98" cy="142.67" r="3.3"/><circle cx="623.85" cy="126.6" r="3.3"/><circle cx="627.72" cy="103.3" r="3.3"/><circle cx="631.59" cy="83.19" r="3.3"/><circle cx="635.45" cy="64.01" r="3.3"/><circle cx="639.32" cy="52.6" r="3.3"/><circle cx="643.19" cy="49.02" r="3.3"/><circle cx="647.06" cy="61.04" r="3.3"/><circle cx="650.93" cy="87.22" r="3.3"/><circle cx="654.8" cy="113.23" r="3.3"/><circle cx="658.67" cy="141.35" r="3.3"/><circle cx="662.53" cy="163.65" r="3.3"/><circle cx="666.4" cy="180.43" r="3.3"/><circle cx="670.27" cy="191.45" r="3.3"/><circle cx="672.94" cy="200.38" r="3.3"/><circle cx="678.28" cy="207.74" r="3.3"/><circle cx="683.61" cy="211.83" r="3.3"/><circle cx="688.95" cy="214.1" r="3.3"/><circle cx="694.28" cy="216.38" r="3.3"/><circle cx="699.62" cy="217.25" r="3.3"/><circle cx="704.96" cy="219.22" r="3.3"/><circle cx="710.29" cy="218.71" r="3.3"/><circle cx="715.63" cy="219.11" r="3.3"/><circle cx="720.96" cy="221.1" r="3.3"/><circle cx="726.3" cy="221.28" r="3.3"/><circle cx="731.64" cy="220.79" r="3.3"/><circle cx="736.97" cy="221.11" r="3.3"/><circle cx="742.31" cy="221.22" r="3.3"/><circle cx="747.64" cy="222.64" r="3.3"/><circle cx="752.98" cy="222.24" r="3.3"/><circle cx="758.32" cy="222.46" r="3.3"/><circle cx="763.65" cy="221.3" r="3.3"/><circle cx="768.99" cy="222.44" r="3.3"/><circle cx="774.32" cy="222.83" r="3.3"/><circle cx="779.66" cy="223.2" r="3.3"/><circle cx="785" cy="222.65" r="3.3"/><circle cx="790.33" cy="221.89" r="3.3"/><circle cx="795.67" cy="223.88" r="3.3"/><circle cx="801" cy="222.77" r="3.3"/></g>
<g fill="none" stroke="#9640b4" stroke-width="1.15"><circle cx="526.2" cy="223.78" r="3.3"/><circle cx="528.53" cy="222.72" r="3.3"/><circle cx="530.87" cy="223.62" r="3.3"/><circle cx="533.2" cy="223.13" r="3.3"/><circle cx="535.54" cy="224.02" r="3.3"/><circle cx="537.87" cy="225.01" r="3.3"/><circle cx="540.21" cy="225.01" r="3.3"/><circle cx="542.54" cy="224.5" r="3.3"/><circle cx="544.88" cy="223.87" r="3.3"/><circle cx="547.21" cy="224.15" r="3.3"/><circle cx="549.55" cy="224.25" r="3.3"/><circle cx="551.88" cy="222.63" r="3.3"/><circle cx="554.21" cy="225.55" r="3.3"/><circle cx="556.55" cy="224.58" r="3.3"/><circle cx="558.88" cy="222.14" r="3.3"/><circle cx="561.22" cy="223.57" r="3.3"/><circle cx="563.55" cy="224.23" r="3.3"/><circle cx="565.89" cy="224.51" r="3.3"/><circle cx="568.22" cy="223.13" r="3.3"/><circle cx="570.56" cy="223.17" r="3.3"/><circle cx="572.89" cy="223.06" r="3.3"/><circle cx="575.22" cy="224.5" r="3.3"/><circle cx="577.56" cy="223.46" r="3.3"/><circle cx="579.89" cy="223.67" r="3.3"/><circle cx="582.23" cy="223.17" r="3.3"/><circle cx="584.56" cy="224.57" r="3.3"/><circle cx="586.9" cy="222.98" r="3.3"/><circle cx="589.23" cy="222.27" r="3.3"/><circle cx="591.57" cy="224.27" r="3.3"/><circle cx="593.9" cy="222.64" r="3.3"/><circle cx="596.24" cy="222.03" r="3.3"/><circle cx="598.57" cy="222.53" r="3.3"/><circle cx="600.9" cy="223.13" r="3.3"/><circle cx="603.24" cy="222.95" r="3.3"/><circle cx="605.57" cy="223.36" r="3.3"/><circle cx="607.91" cy="222.77" r="3.3"/><circle cx="610.24" cy="223.59" r="3.3"/><circle cx="612.58" cy="222.76" r="3.3"/><circle cx="614.91" cy="223.32" r="3.3"/><circle cx="617.25" cy="223.67" r="3.3"/><circle cx="619.58" cy="221.52" r="3.3"/><circle cx="621.91" cy="223.8" r="3.3"/><circle cx="624.25" cy="221.16" r="3.3"/><circle cx="626.58" cy="223.86" r="3.3"/><circle cx="628.92" cy="221.58" r="3.3"/><circle cx="631.25" cy="222.01" r="3.3"/><circle cx="633.59" cy="223.18" r="3.3"/><circle cx="635.92" cy="222.29" r="3.3"/><circle cx="638.26" cy="222.54" r="3.3"/><circle cx="640.59" cy="222.38" r="3.3"/><circle cx="642.93" cy="220.96" r="3.3"/><circle cx="645.26" cy="222.28" r="3.3"/><circle cx="647.59" cy="222.67" r="3.3"/><circle cx="649.93" cy="220.38" r="3.3"/><circle cx="652.26" cy="220.74" r="3.3"/><circle cx="654.6" cy="220.85" r="3.3"/><circle cx="656.93" cy="220.88" r="3.3"/><circle cx="659.27" cy="220" r="3.3"/><circle cx="661.6" cy="220.04" r="3.3"/><circle cx="663.94" cy="220.17" r="3.3"/><circle cx="666.27" cy="220.29" r="3.3"/><circle cx="668.6" cy="218.87" r="3.3"/><circle cx="670.94" cy="218.35" r="3.3"/><circle cx="673.27" cy="218.78" r="3.3"/><circle cx="675.61" cy="216.71" r="3.3"/><circle cx="677.94" cy="218.35" r="3.3"/><circle cx="680.28" cy="218.05" r="3.3"/><circle cx="682.61" cy="216.75" r="3.3"/><circle cx="684.95" cy="217.22" r="3.3"/><circle cx="687.28" cy="216.83" r="3.3"/><circle cx="689.62" cy="216.81" r="3.3"/><circle cx="691.95" cy="215.73" r="3.3"/><circle cx="694.28" cy="216.72" r="3.3"/><circle cx="696.62" cy="215.47" r="3.3"/><circle cx="698.95" cy="215.08" r="3.3"/><circle cx="699.62" cy="215.66" r="3.3"/><circle cx="704.62" cy="211.7" r="3.3"/><circle cx="709.63" cy="210.64" r="3.3"/><circle cx="714.63" cy="208.34" r="3.3"/><circle cx="719.63" cy="203.86" r="3.3"/><circle cx="724.63" cy="200.06" r="3.3"/><circle cx="729.64" cy="191.63" r="3.3"/><circle cx="734.64" cy="181.59" r="3.3"/><circle cx="739.64" cy="170.29" r="3.3"/><circle cx="744.64" cy="150.74" r="3.3"/><circle cx="749.65" cy="129.03" r="3.3"/><circle cx="754.65" cy="102.07" r="3.3"/><circle cx="759.65" cy="75.8" r="3.3"/><circle cx="764.65" cy="55.84" r="3.3"/><circle cx="769.66" cy="50.52" r="3.3"/><circle cx="774.66" cy="66.63" r="3.3"/><circle cx="779.66" cy="97.89" r="3.3"/><circle cx="784.66" cy="130.95" r="3.3"/><circle cx="789.67" cy="160.42" r="3.3"/><circle cx="794.67" cy="178.06" r="3.3"/><circle cx="799.67" cy="191.2" r="3.3"/><circle cx="804.67" cy="202.15" r="3.3"/><circle cx="809.68" cy="206.81" r="3.3"/><circle cx="814.68" cy="209.89" r="3.3"/><circle cx="819.68" cy="211.04" r="3.3"/><circle cx="824.68" cy="213.67" r="3.3"/><circle cx="829.69" cy="213.96" r="3.3"/><circle cx="834.69" cy="213.4" r="3.3"/><circle cx="839.69" cy="214.33" r="3.3"/><circle cx="844.69" cy="214.49" r="3.3"/><circle cx="849.7" cy="216.43" r="3.3"/><circle cx="854.7" cy="217.14" r="3.3"/><circle cx="859.7" cy="216.54" r="3.3"/><circle cx="864.7" cy="217.66" r="3.3"/><circle cx="869.71" cy="217.3" r="3.3"/><circle cx="874.71" cy="217.54" r="3.3"/><circle cx="879.71" cy="217.25" r="3.3"/><circle cx="884.71" cy="216.76" r="3.3"/><circle cx="889.72" cy="216.94" r="3.3"/><circle cx="894.72" cy="217.38" r="3.3"/><circle cx="899.72" cy="218.29" r="3.3"/><circle cx="904.72" cy="217.78" r="3.3"/><circle cx="909.73" cy="218.6" r="3.3"/><circle cx="914.73" cy="219.05" r="3.3"/><circle cx="919.73" cy="219.55" r="3.3"/><circle cx="924.73" cy="218.95" r="3.3"/></g>
<g fill="none" stroke="#3aa4c4" stroke-width="1.15"><circle cx="526.2" cy="220.28" r="3.3"/><circle cx="529.2" cy="220.15" r="3.3"/><circle cx="532.2" cy="220.6" r="3.3"/><circle cx="535.2" cy="220.21" r="3.3"/><circle cx="538.21" cy="221.02" r="3.3"/><circle cx="541.21" cy="219.43" r="3.3"/><circle cx="544.21" cy="220.5" r="3.3"/><circle cx="547.21" cy="220.82" r="3.3"/><circle cx="550.21" cy="220.12" r="3.3"/><circle cx="553.21" cy="220.69" r="3.3"/><circle cx="556.21" cy="220.34" r="3.3"/><circle cx="559.22" cy="219.52" r="3.3"/><circle cx="562.22" cy="221.13" r="3.3"/><circle cx="565.22" cy="220.75" r="3.3"/><circle cx="568.22" cy="220.67" r="3.3"/><circle cx="571.22" cy="220.5" r="3.3"/><circle cx="574.22" cy="215.72" r="3.3"/><circle cx="577.23" cy="216.41" r="3.3"/><circle cx="580.23" cy="216.11" r="3.3"/><circle cx="583.23" cy="218.83" r="3.3"/><circle cx="586.23" cy="216.66" r="3.3"/><circle cx="589.23" cy="216.81" r="3.3"/><circle cx="592.23" cy="216.61" r="3.3"/><circle cx="595.23" cy="216.97" r="3.3"/><circle cx="598.24" cy="217.44" r="3.3"/><circle cx="601.24" cy="216.46" r="3.3"/><circle cx="604.24" cy="217.09" r="3.3"/><circle cx="607.24" cy="216.95" r="3.3"/><circle cx="610.24" cy="217.35" r="3.3"/><circle cx="613.24" cy="217.07" r="3.3"/><circle cx="616.24" cy="216.54" r="3.3"/><circle cx="619.25" cy="216.33" r="3.3"/><circle cx="622.25" cy="216.91" r="3.3"/><circle cx="625.25" cy="216.82" r="3.3"/><circle cx="628.25" cy="217.01" r="3.3"/><circle cx="631.25" cy="216.22" r="3.3"/><circle cx="634.25" cy="217.14" r="3.3"/><circle cx="637.26" cy="217.03" r="3.3"/><circle cx="640.26" cy="216.73" r="3.3"/><circle cx="643.26" cy="217.09" r="3.3"/><circle cx="646.26" cy="216.57" r="3.3"/><circle cx="649.26" cy="215.6" r="3.3"/><circle cx="652.26" cy="216.75" r="3.3"/><circle cx="655.26" cy="215.69" r="3.3"/><circle cx="658.27" cy="216.04" r="3.3"/><circle cx="661.27" cy="216.55" r="3.3"/><circle cx="664.27" cy="216.17" r="3.3"/><circle cx="667.27" cy="215.61" r="3.3"/><circle cx="670.27" cy="217.2" r="3.3"/><circle cx="673.27" cy="216.08" r="3.3"/><circle cx="676.27" cy="215.68" r="3.3"/><circle cx="679.28" cy="217.04" r="3.3"/><circle cx="682.28" cy="215.55" r="3.3"/><circle cx="685.28" cy="216" r="3.3"/><circle cx="688.28" cy="217" r="3.3"/><circle cx="691.28" cy="216.08" r="3.3"/><circle cx="694.28" cy="217.36" r="3.3"/><circle cx="697.29" cy="217.19" r="3.3"/><circle cx="700.29" cy="217.36" r="3.3"/><circle cx="703.29" cy="216.08" r="3.3"/><circle cx="706.29" cy="216.49" r="3.3"/><circle cx="709.29" cy="216.71" r="3.3"/><circle cx="712.29" cy="216.51" r="3.3"/><circle cx="715.29" cy="216.15" r="3.3"/><circle cx="718.3" cy="216.27" r="3.3"/><circle cx="721.3" cy="216.33" r="3.3"/><circle cx="724.3" cy="215.81" r="3.3"/><circle cx="727.3" cy="216.53" r="3.3"/><circle cx="730.3" cy="216.17" r="3.3"/><circle cx="733.3" cy="214.91" r="3.3"/><circle cx="736.3" cy="215.4" r="3.3"/><circle cx="739.31" cy="216.82" r="3.3"/><circle cx="742.31" cy="214.38" r="3.3"/><circle cx="745.31" cy="215.97" r="3.3"/><circle cx="748.31" cy="214.11" r="3.3"/><circle cx="751.31" cy="215.08" r="3.3"/><circle cx="754.31" cy="214.35" r="3.3"/><circle cx="757.32" cy="216.14" r="3.3"/><circle cx="760.32" cy="215.3" r="3.3"/><circle cx="763.32" cy="215.06" r="3.3"/><circle cx="766.32" cy="214.83" r="3.3"/><circle cx="769.32" cy="214.81" r="3.3"/><circle cx="772.32" cy="214.5" r="3.3"/><circle cx="775.32" cy="213.92" r="3.3"/><circle cx="778.33" cy="214.02" r="3.3"/><circle cx="781.33" cy="213.42" r="3.3"/><circle cx="784.33" cy="212.79" r="3.3"/><circle cx="787.33" cy="213.92" r="3.3"/><circle cx="790.33" cy="212.48" r="3.3"/><circle cx="793.33" cy="212.57" r="3.3"/><circle cx="796.33" cy="211.49" r="3.3"/><circle cx="799.34" cy="210.46" r="3.3"/><circle cx="802.34" cy="211.25" r="3.3"/><circle cx="805.34" cy="209.85" r="3.3"/><circle cx="808.34" cy="208.14" r="3.3"/><circle cx="811.34" cy="207.13" r="3.3"/><circle cx="813.01" cy="207.64" r="3.3"/><circle cx="818.01" cy="204.54" r="3.3"/><circle cx="823.02" cy="202.05" r="3.3"/><circle cx="828.02" cy="198.09" r="3.3"/><circle cx="833.02" cy="192.26" r="3.3"/><circle cx="838.02" cy="181.71" r="3.3"/><circle cx="843.03" cy="165.61" r="3.3"/><circle cx="848.03" cy="142.99" r="3.3"/><circle cx="853.03" cy="110.44" r="3.3"/><circle cx="858.03" cy="76.13" r="3.3"/><circle cx="863.04" cy="51.89" r="3.3"/><circle cx="868.04" cy="58.32" r="3.3"/><circle cx="873.04" cy="99.25" r="3.3"/><circle cx="878.04" cy="143.97" r="3.3"/><circle cx="883.05" cy="176.03" r="3.3"/><circle cx="888.05" cy="195.38" r="3.3"/><circle cx="893.05" cy="206.07" r="3.3"/><circle cx="898.05" cy="210.01" r="3.3"/><circle cx="903.06" cy="214.19" r="3.3"/><circle cx="908.06" cy="215.85" r="3.3"/><circle cx="913.06" cy="215.95" r="3.3"/><circle cx="918.06" cy="218.17" r="3.3"/><circle cx="923.07" cy="217.66" r="3.3"/></g>
<polyline points="427.15,222.2 428.15,222.18 429.15,222.16 430.15,222.15 431.15,222.13 432.15,222.11 433.15,222.09 434.15,222.07 435.15,222.05 436.16,222.03 437.16,222.01 438.16,221.98 439.16,221.96 440.16,221.94 441.16,221.92 442.16,221.89 443.16,221.87 444.16,221.84 445.16,221.82 446.16,221.79 447.16,221.77 448.16,221.74 449.16,221.71 450.16,221.68 451.16,221.65 452.16,221.62 453.16,221.59 454.16,221.56 455.16,221.53 456.17,221.5 457.17,221.46 458.17,221.43 459.17,221.39 460.17,221.35 461.17,221.32 462.17,221.28 463.17,221.24 464.17,221.2 465.17,221.16 466.17,221.11 467.17,221.07 468.17,221.02 469.17,220.98 470.17,220.93 471.17,220.88 472.17,220.83 473.17,220.78 474.17,220.72 475.17,220.67 476.18,220.61 477.18,220.55 478.18,220.49 479.18,220.43 480.18,220.37 481.18,220.3 482.18,220.23 483.18,220.16 484.18,220.09 485.18,220.01 486.18,219.94 487.18,219.86 488.18,219.77 489.18,219.69 490.18,219.6 491.18,219.51 492.18,219.41 493.18,219.31 494.18,219.21 495.18,219.1 496.19,218.99 497.19,218.88 498.19,218.76 499.19,218.64 500.19,218.51 501.19,218.38 502.19,218.24 503.19,218.09 504.19,217.94 505.19,217.79 506.19,217.62 507.19,217.45 508.19,217.28 509.19,217.09 510.19,216.9 511.19,216.7 512.19,216.49 513.19,216.26 514.19,216.03 515.19,215.79 516.2,215.54 517.2,215.27 518.2,214.99 519.2,214.69 520.2,214.38 521.2,214.05 522.2,213.71 523.2,213.34 524.2,212.96 525.2,212.55 526.2,212.12 527.2,211.66 528.2,211.17 529.2,210.65 530.2,210.09 531.2,209.49 532.2,208.84 533.2,208.15 534.2,207.4 535.2,206.59 536.21,205.72 537.21,204.76 538.21,203.72 539.21,202.57 540.21,201.32 541.21,199.95 542.21,198.44 543.21,196.78 544.21,194.96 545.21,192.94 546.21,190.73 547.21,188.29 548.21,185.6 549.21,182.66 550.21,179.42 551.21,175.89 552.21,172.03 553.21,167.83 554.21,163.27 555.21,158.35 556.22,153.04 557.22,147.34 558.22,141.27 559.22,134.82 560.22,128.01 561.22,120.88 562.22,113.47 563.22,105.84 564.22,98.1 565.22,90.34 566.22,82.71 567.22,75.39 568.22,68.56 569.22,62.43 570.22,57.24 571.22,53.18 572.22,50.42 573.22,49.11 574.22,49.31 575.22,51.06 576.23,54.28 577.23,58.84 578.23,64.56 579.23,71.22 580.23,78.61 581.23,86.51 582.23,94.75 583.23,103.14 584.23,111.54 585.23,119.84 586.23,127.92 587.23,135.71 588.23,143.16 589.23,150.2 590.23,156.81 591.23,162.97 592.23,168.67 593.23,173.91 594.23,178.69 595.23,183.03 596.24,186.94 597.24,190.46 598.24,193.61 599.24,196.4 600.24,198.89 601.24,201.08 602.24,203.02 603.24,204.73 604.24,206.23 605.24,207.55 606.24,208.71 607.24,209.74 608.24,210.65 609.24,211.46 610.24,212.17 611.24,212.82 612.24,213.39 613.24,213.92 614.24,214.39 615.24,214.82 616.25,215.22 617.25,215.59 618.25,215.92 619.25,216.24 620.25,216.53 621.25,216.81 622.25,217.06 623.25,217.3 624.25,217.53 625.25,217.75 626.25,217.95 627.25,218.14 628.25,218.33 629.25,218.5 630.25,218.67 631.25,218.82 632.25,218.97 633.25,219.12 634.25,219.25 635.25,219.38 636.26,219.51 637.26,219.62 638.26,219.74 639.26,219.85 640.26,219.95 641.26,220.05 642.26,220.15 643.26,220.24 644.26,220.33 645.26,220.41 646.26,220.49 647.26,220.57 648.26,220.65 649.26,220.72 650.26,220.79 651.26,220.85 652.26,220.92 653.26,220.98 654.26,221.04 655.26,221.1 656.27,221.16 657.27,221.21 658.27,221.26 659.27,221.31 660.27,221.36 661.27,221.41 662.27,221.45 663.27,221.5 664.27,221.54 665.27,221.58 666.27,221.62 667.27,221.66 668.27,221.7 669.27,221.73 670.27,221.77 671.27,221.8 672.27,221.84 673.27,221.87 674.27,221.9 675.27,221.93 676.28,221.96 677.28,221.99 678.28,222.02 679.28,222.05 680.28,222.07 681.28,222.1 682.28,222.12 683.28,222.15 684.28,222.17 685.28,222.19 686.28,222.22 687.28,222.24 688.28,222.26 689.28,222.28 690.28,222.3 691.28,222.32 692.28,222.34 693.28,222.36 694.28,222.38 695.28,222.4 696.29,222.41 697.29,222.43 698.29,222.45 699.29,222.46 700.29,222.48 701.29,222.49 702.29,222.51 703.29,222.52 704.29,222.54 705.29,222.55 706.29,222.57 707.29,222.58 708.29,222.59 709.29,222.61 710.29,222.62 711.29,222.63 712.29,222.64 713.29,222.66 714.29,222.67 715.29,222.68 716.3,222.69 717.3,222.7 718.3,222.71 719.3,222.72 720.3,222.73 721.3,222.74 722.3,222.75 723.3,222.76 724.3,222.77 725.3,222.78 726.3,222.79 727.3,222.8 728.3,222.81 729.3,222.82 730.3,222.83 731.3,222.83 732.3,222.84 733.3,222.85 734.3,222.86 735.3,222.87 736.31,222.87 737.31,222.88 738.31,222.89 739.31,222.89 740.31,222.9 741.31,222.91 742.31,222.92 743.31,222.92 744.31,222.93 745.31,222.94 746.31,222.94 747.31,222.95 748.31,222.95 749.31,222.96 750.31,222.97 751.31,222.97 752.31,222.98 753.31,222.98 754.31,222.99 755.31,222.99 756.32,223 757.32,223 758.32,223.01 759.32,223.02 760.32,223.02 761.32,223.02 762.32,223.03 763.32,223.03 764.32,223.04 765.32,223.04 766.32,223.05 767.32,223.05 768.32,223.06 769.32,223.06 770.32,223.07 771.32,223.07 772.32,223.07 773.32,223.08 774.32,223.08 775.32,223.09 776.33,223.09 777.33,223.09 778.33,223.1 779.33,223.1 780.33,223.11 781.33,223.11 782.33,223.11 783.33,223.12 784.33,223.12 785.33,223.12 786.33,223.13 787.33,223.13 788.33,223.13 789.33,223.14 790.33,223.14 791.33,223.14 792.33,223.15 793.33,223.15 794.33,223.15 795.33,223.16 796.34,223.16 797.34,223.16 798.34,223.16 799.34,223.17 800.34,223.17 801.34,223.17 802.34,223.18 803.34,223.18 804.34,223.18 805.34,223.18 806.34,223.19 807.34,223.19 808.34,223.19 809.34,223.19" fill="none" stroke="#e2b46a" stroke-width="1.4" stroke-linejoin="round" stroke-linecap="round" />
<polyline points="427.15,222.27 428.15,222.26 429.15,222.25 430.15,222.24 431.15,222.23 432.15,222.22 433.15,222.2 434.15,222.19 435.15,222.18 436.16,222.17 437.16,222.15 438.16,222.14 439.16,222.13 440.16,222.11 441.16,222.1 442.16,222.09 443.16,222.07 444.16,222.06 445.16,222.04 446.16,222.03 447.16,222.02 448.16,222 449.16,221.99 450.16,221.97 451.16,221.95 452.16,221.94 453.16,221.92 454.16,221.91 455.16,221.89 456.17,221.87 457.17,221.85 458.17,221.84 459.17,221.82 460.17,221.8 461.17,221.78 462.17,221.76 463.17,221.74 464.17,221.72 465.17,221.71 466.17,221.69 467.17,221.66 468.17,221.64 469.17,221.62 470.17,221.6 471.17,221.58 472.17,221.56 473.17,221.54 474.17,221.51 475.17,221.49 476.18,221.46 477.18,221.44 478.18,221.42 479.18,221.39 480.18,221.37 481.18,221.34 482.18,221.31 483.18,221.29 484.18,221.26 485.18,221.23 486.18,221.2 487.18,221.17 488.18,221.14 489.18,221.11 490.18,221.08 491.18,221.05 492.18,221.02 493.18,220.99 494.18,220.95 495.18,220.92 496.19,220.88 497.19,220.85 498.19,220.81 499.19,220.78 500.19,220.74 501.19,220.7 502.19,220.66 503.19,220.62 504.19,220.58 505.19,220.54 506.19,220.5 507.19,220.45 508.19,220.41 509.19,220.36 510.19,220.32 511.19,220.27 512.19,220.22 513.19,220.17 514.19,220.12 515.19,220.07 516.2,220.02 517.2,219.96 518.2,219.91 519.2,219.85 520.2,219.79 521.2,219.73 522.2,219.67 523.2,219.61 524.2,219.54 525.2,219.48 526.2,219.41 527.2,219.34 528.2,219.27 529.2,219.2 530.2,219.12 531.2,219.05 532.2,218.97 533.2,218.89 534.2,218.81 535.2,218.72 536.21,218.63 537.21,218.55 538.21,218.45 539.21,218.36 540.21,218.26 541.21,218.16 542.21,218.06 543.21,217.95 544.21,217.85 545.21,217.73 546.21,217.62 547.21,217.5 548.21,217.38 549.21,217.25 550.21,217.12 551.21,216.99 552.21,216.85 553.21,216.71 554.21,216.56 555.21,216.41 556.22,216.25 557.22,216.09 558.22,215.92 559.22,215.75 560.22,215.57 561.22,215.39 562.22,215.2 563.22,215 564.22,214.79 565.22,214.58 566.22,214.36 567.22,214.13 568.22,213.89 569.22,213.65 570.22,213.39 571.22,213.12 572.22,212.85 573.22,212.56 574.22,212.26 575.22,211.94 576.23,211.61 577.23,211.27 578.23,210.91 579.23,210.54 580.23,210.15 581.23,209.73 582.23,209.3 583.23,208.84 584.23,208.36 585.23,207.85 586.23,207.32 587.23,206.75 588.23,206.15 589.23,205.52 590.23,204.84 591.23,204.12 592.23,203.36 593.23,202.55 594.23,201.68 595.23,200.75 596.24,199.77 597.24,198.71 598.24,197.58 599.24,196.37 600.24,195.08 601.24,193.7 602.24,192.21 603.24,190.63 604.24,188.93 605.24,187.12 606.24,185.19 607.24,183.12 608.24,180.91 609.24,178.56 610.24,176.05 611.24,173.39 612.24,170.56 613.24,167.56 614.24,164.39 615.24,161.03 616.25,157.49 617.25,153.76 618.25,149.84 619.25,145.73 620.25,141.43 621.25,136.94 622.25,132.28 623.25,127.45 624.25,122.45 625.25,117.32 626.25,112.06 627.25,106.7 628.25,101.28 629.25,95.83 630.25,90.39 631.25,85.01 632.25,79.75 633.25,74.68 634.25,69.86 635.25,65.37 636.26,61.28 637.26,57.68 638.26,54.62 639.26,52.17 640.26,50.4 641.26,49.33 642.26,49 643.26,49.66 644.26,51.48 645.26,54.39 646.26,58.31 647.26,63.11 648.26,68.65 649.26,74.81 650.26,81.43 651.26,88.39 652.26,95.56 653.26,102.84 654.26,110.13 655.26,117.36 656.27,124.44 657.27,131.33 658.27,137.99 659.27,144.36 660.27,150.43 661.27,156.18 662.27,161.58 663.27,166.65 664.27,171.36 665.27,175.72 666.27,179.75 667.27,183.45 668.27,186.84 669.27,189.92 670.27,192.72 671.27,195.25 672.27,197.53 673.27,199.59 674.27,201.44 675.27,203.09 676.28,204.58 677.28,205.91 678.28,207.09 679.28,208.16 680.28,209.11 681.28,209.97 682.28,210.74 683.28,211.44 684.28,212.07 685.28,212.64 686.28,213.16 687.28,213.63 688.28,214.07 689.28,214.47 690.28,214.84 691.28,215.19 692.28,215.51 693.28,215.81 694.28,216.09 695.28,216.35 696.29,216.6 697.29,216.84 698.29,217.06 699.29,217.27 700.29,217.47 701.29,217.66 702.29,217.84 703.29,218.01 704.29,218.18 705.29,218.34 706.29,218.49 707.29,218.63 708.29,218.77 709.29,218.9 710.29,219.03 711.29,219.15 712.29,219.27 713.29,219.38 714.29,219.49 715.29,219.59 716.3,219.69 717.3,219.79 718.3,219.88 719.3,219.97 720.3,220.06 721.3,220.14 722.3,220.22 723.3,220.3 724.3,220.37 725.3,220.44 726.3,220.51 727.3,220.58 728.3,220.65 729.3,220.71 730.3,220.77 731.3,220.83 732.3,220.88 733.3,220.94 734.3,220.99 735.3,221.05 736.31,221.1 737.31,221.14 738.31,221.19 739.31,221.24 740.31,221.28 741.31,221.32 742.31,221.37 743.31,221.41 744.31,221.45 745.31,221.49 746.31,221.52 747.31,221.56 748.31,221.59 749.31,221.63 750.31,221.66 751.31,221.7 752.31,221.73 753.31,221.76 754.31,221.79 755.31,221.82 756.32,221.85 757.32,221.87 758.32,221.9 759.32,221.93 760.32,221.95 761.32,221.98 762.32,222 763.32,222.03 764.32,222.05 765.32,222.07 766.32,222.1 767.32,222.12 768.32,222.14 769.32,222.16 770.32,222.18 771.32,222.2 772.32,222.22 773.32,222.24 774.32,222.26 775.32,222.28 776.33,222.29 777.33,222.31 778.33,222.33 779.33,222.34 780.33,222.36 781.33,222.38 782.33,222.39 783.33,222.41 784.33,222.42 785.33,222.44 786.33,222.45 787.33,222.47 788.33,222.48 789.33,222.49 790.33,222.51 791.33,222.52 792.33,222.53 793.33,222.54 794.33,222.56 795.33,222.57 796.34,222.58 797.34,222.59 798.34,222.6 799.34,222.61 800.34,222.62 801.34,222.64 802.34,222.65 803.34,222.66 804.34,222.67 805.34,222.68" fill="none" stroke="#c04040" stroke-width="1.4" stroke-linejoin="round" stroke-linecap="round" />
<polyline points="526.2,223.5 527.2,223.49 528.2,223.49 529.2,223.48 530.2,223.47 531.2,223.46 532.2,223.45 533.2,223.44 534.2,223.44 535.2,223.43 536.21,223.42 537.21,223.41 538.21,223.4 539.21,223.39 540.21,223.38 541.21,223.37 542.21,223.36 543.21,223.35 544.21,223.34 545.21,223.33 546.21,223.32 547.21,223.31 548.21,223.3 549.21,223.29 550.21,223.28 551.21,223.27 552.21,223.26 553.21,223.25 554.21,223.24 555.21,223.23 556.22,223.21 557.22,223.2 558.22,223.19 559.22,223.18 560.22,223.17 561.22,223.15 562.22,223.14 563.22,223.13 564.22,223.12 565.22,223.1 566.22,223.09 567.22,223.08 568.22,223.06 569.22,223.05 570.22,223.03 571.22,223.02 572.22,223 573.22,222.99 574.22,222.97 575.22,222.96 576.23,222.94 577.23,222.93 578.23,222.91 579.23,222.9 580.23,222.88 581.23,222.86 582.23,222.85 583.23,222.83 584.23,222.81 585.23,222.79 586.23,222.78 587.23,222.76 588.23,222.74 589.23,222.72 590.23,222.7 591.23,222.68 592.23,222.66 593.23,222.64 594.23,222.62 595.23,222.6 596.24,222.58 597.24,222.56 598.24,222.53 599.24,222.51 600.24,222.49 601.24,222.46 602.24,222.44 603.24,222.42 604.24,222.39 605.24,222.37 606.24,222.34 607.24,222.32 608.24,222.29 609.24,222.26 610.24,222.24 611.24,222.21 612.24,222.18 613.24,222.15 614.24,222.12 615.24,222.09 616.25,222.06 617.25,222.03 618.25,222 619.25,221.96 620.25,221.93 621.25,221.9 622.25,221.86 623.25,221.83 624.25,221.79 625.25,221.76 626.25,221.72 627.25,221.68 628.25,221.64 629.25,221.6 630.25,221.56 631.25,221.52 632.25,221.48 633.25,221.43 634.25,221.39 635.25,221.34 636.26,221.3 637.26,221.25 638.26,221.2 639.26,221.15 640.26,221.1 641.26,221.05 642.26,221 643.26,220.95 644.26,220.89 645.26,220.83 646.26,220.78 647.26,220.72 648.26,220.66 649.26,220.59 650.26,220.53 651.26,220.47 652.26,220.4 653.26,220.33 654.26,220.26 655.26,220.19 656.27,220.11 657.27,220.04 658.27,219.96 659.27,219.88 660.27,219.8 661.27,219.72 662.27,219.63 663.27,219.54 664.27,219.45 665.27,219.36 666.27,219.26 667.27,219.16 668.27,219.06 669.27,218.95 670.27,218.85 671.27,218.74 672.27,218.62 673.27,218.5 674.27,218.38 675.27,218.26 676.28,218.13 677.28,218 678.28,217.86 679.28,217.72 680.28,217.58 681.28,217.43 682.28,217.27 683.28,217.11 684.28,216.95 685.28,216.78 686.28,216.6 687.28,216.42 688.28,216.23 689.28,216.03 690.28,215.83 691.28,215.62 692.28,215.4 693.28,215.18 694.28,214.94 695.28,214.7 696.29,214.45 697.29,214.19 698.29,213.91 699.29,213.63 700.29,213.33 701.29,213.02 702.29,212.7 703.29,212.37 704.29,212.01 705.29,211.65 706.29,211.26 707.29,210.86 708.29,210.43 709.29,209.98 710.29,209.51 711.29,209.02 712.29,208.5 713.29,207.94 714.29,207.36 715.29,206.74 716.3,206.08 717.3,205.38 718.3,204.64 719.3,203.85 720.3,203.01 721.3,202.11 722.3,201.15 723.3,200.13 724.3,199.03 725.3,197.86 726.3,196.6 727.3,195.26 728.3,193.83 729.3,192.29 730.3,190.64 731.3,188.89 732.3,187.01 733.3,185 734.3,182.86 735.3,180.57 736.31,178.13 737.31,175.54 738.31,172.79 739.31,169.86 740.31,166.77 741.31,163.49 742.31,160.03 743.31,156.38 744.31,152.54 745.31,148.51 746.31,144.29 747.31,139.88 748.31,135.28 749.31,130.51 750.31,125.58 751.31,120.49 752.31,115.26 753.31,109.93 754.31,104.51 755.31,99.03 756.32,93.55 757.32,88.1 758.32,82.74 759.32,77.53 760.32,72.54 761.32,67.84 762.32,63.5 763.32,59.61 764.32,56.23 765.32,53.43 766.32,51.27 767.32,49.82 768.32,49.09 769.32,49.14 770.32,50.23 771.32,52.33 772.32,55.4 773.32,59.35 774.32,64.06 775.32,69.43 776.33,75.32 777.33,81.64 778.33,88.25 779.33,95.06 780.33,101.98 781.33,108.93 782.33,115.82 783.33,122.61 784.33,129.23 785.33,135.66 786.33,141.85 787.33,147.77 788.33,153.42 789.33,158.76 790.33,163.79 791.33,168.52 792.33,172.93 793.33,174.18 794.33,177.89 795.33,181.32 796.34,184.46 797.34,187.34 798.34,189.97 799.34,192.36 800.34,194.54 801.34,196.5 802.34,198.28 803.34,199.89 804.34,201.33 805.34,202.64 806.34,203.81 807.34,204.87 808.34,205.82 809.34,206.68 810.34,207.45 811.34,208.16 812.34,208.79 813.34,209.37 814.34,209.9 815.34,210.39 816.35,210.83 817.35,211.24 818.35,211.62 819.35,211.97 820.35,212.3 821.35,212.6 822.35,212.89 823.35,213.16 824.35,213.41 825.35,213.65 826.35,213.88 827.35,214.09 828.35,214.3 829.35,214.49 830.35,214.68 831.35,214.85 832.35,215.02 833.35,215.18 834.35,215.33 835.35,215.48 836.36,215.62 837.36,215.76 838.36,215.89 839.36,216.01 840.36,216.13 841.36,216.25 842.36,216.36 843.36,216.47 844.36,216.57 845.36,216.67 846.36,216.76 847.36,216.86 848.36,216.94 849.36,217.03 850.36,217.11 851.36,217.19 852.36,217.27 853.36,217.34 854.36,217.42 855.36,217.49 856.37,217.55 857.37,217.62 858.37,217.68 859.37,217.74 860.37,217.8 861.37,217.86 862.37,217.92 863.37,217.97 864.37,218.02 865.37,218.07 866.37,218.12 867.37,218.17 868.37,218.22 869.37,218.26 870.37,218.31 871.37,218.35 872.37,218.39 873.37,218.43 874.37,218.47 875.37,218.51 876.38,218.55 877.38,218.58 878.38,218.62 879.38,218.65 880.38,218.68 881.38,218.72 882.38,218.75 883.38,218.78 884.38,218.81 885.38,218.84 886.38,218.87 887.38,218.9 888.38,218.92 889.38,218.95 890.38,218.98 891.38,219 892.38,219.03 893.38,219.05 894.38,219.07 895.38,219.1 896.39,219.12 897.39,219.14 898.39,219.16 899.39,219.18 900.39,219.2 901.39,219.22 902.39,219.24 903.39,219.26 904.39,219.28 905.39,219.3 906.39,219.32 907.39,219.34 908.39,219.35 909.39,219.37 910.39,219.39 911.39,219.4 912.39,219.42 913.39,219.43 914.39,219.45 915.39,219.47 916.4,219.48 917.4,219.49 918.4,219.51 919.4,219.52 920.4,219.54 921.4,219.55 922.4,219.56 923.4,219.57 924.4,219.59 925.4,219.6 926.4,219.61" fill="none" stroke="#8c3aa4" stroke-width="1.4" stroke-linejoin="round" stroke-linecap="round" />
<polyline points="526.2,221.27 527.2,221.27 528.2,221.27 529.2,221.27 530.2,221.27 531.2,221.27 532.2,221.27 533.2,221.26 534.2,221.26 535.2,221.26 536.21,221.26 537.21,221.26 538.21,221.26 539.21,221.25 540.21,221.25 541.21,221.25 542.21,221.25 543.21,221.25 544.21,221.24 545.21,221.24 546.21,221.24 547.21,221.24 548.21,221.24 549.21,221.23 550.21,221.23 551.21,221.23 552.21,221.23 553.21,221.23 554.21,221.23 555.21,221.22 556.22,221.22 557.22,221.22 558.22,221.22 559.22,221.21 560.22,221.21 561.22,221.21 562.22,221.21 563.22,221.21 564.22,221.2 565.22,221.2 566.22,221.2 567.22,221.2 568.22,221.19 569.22,221.19 570.22,221.19 571.22,221.19 572.22,221.19 573.22,218.75 574.22,218.75 575.22,218.75 576.23,218.74 577.23,218.74 578.23,218.74 579.23,218.74 580.23,218.73 581.23,218.73 582.23,218.73 583.23,218.73 584.23,218.72 585.23,218.72 586.23,218.72 587.23,218.72 588.23,218.71 589.23,218.71 590.23,218.71 591.23,218.7 592.23,218.7 593.23,218.7 594.23,218.7 595.23,218.69 596.24,218.69 597.24,218.69 598.24,218.68 599.24,218.68 600.24,218.68 601.24,218.67 602.24,218.67 603.24,218.67 604.24,218.66 605.24,218.66 606.24,218.66 607.24,218.65 608.24,218.65 609.24,218.65 610.24,218.64 611.24,218.64 612.24,218.64 613.24,218.63 614.24,218.63 615.24,218.62 616.25,218.62 617.25,218.62 618.25,218.61 619.25,218.61 620.25,218.6 621.25,218.6 622.25,218.6 623.25,218.59 624.25,218.59 625.25,218.58 626.25,218.58 627.25,218.58 628.25,218.57 629.25,218.57 630.25,218.56 631.25,218.56 632.25,218.55 633.25,218.55 634.25,218.54 635.25,218.54 636.26,218.53 637.26,218.53 638.26,218.52 639.26,218.52 640.26,218.51 641.26,218.51 642.26,218.5 643.26,218.5 644.26,218.49 645.26,218.49 646.26,218.48 647.26,218.47 648.26,218.47 649.26,218.46 650.26,218.46 651.26,218.45 652.26,218.44 653.26,218.44 654.26,218.43 655.26,218.43 656.27,218.42 657.27,218.41 658.27,218.41 659.27,218.4 660.27,218.39 661.27,218.39 662.27,218.38 663.27,218.37 664.27,218.36 665.27,218.36 666.27,218.35 667.27,218.34 668.27,218.33 669.27,218.33 670.27,218.32 671.27,218.31 672.27,218.3 673.27,218.29 674.27,218.28 675.27,218.28 676.28,218.27 677.28,218.26 678.28,218.25 679.28,218.24 680.28,218.23 681.28,218.22 682.28,218.21 683.28,218.2 684.28,218.19 685.28,218.18 686.28,218.17 687.28,218.16 688.28,218.15 689.28,218.14 690.28,218.13 691.28,218.12 692.28,218.11 693.28,218.1 694.28,218.08 695.28,218.07 696.29,218.06 697.29,218.05 698.29,218.03 699.29,218.02 700.29,218.01 701.29,218 702.29,217.98 703.29,217.97 704.29,217.95 705.29,217.94 706.29,217.92 707.29,217.91 708.29,217.89 709.29,217.88 710.29,217.86 711.29,217.85 712.29,217.83 713.29,217.81 714.29,217.8 715.29,217.78 716.3,217.76 717.3,217.74 718.3,217.73 719.3,217.71 720.3,217.69 721.3,217.67 722.3,217.65 723.3,217.63 724.3,217.61 725.3,217.59 726.3,217.56 727.3,217.54 728.3,217.52 729.3,217.5 730.3,217.47 731.3,217.45 732.3,217.42 733.3,217.4 734.3,217.37 735.3,217.35 736.31,217.32 737.31,217.29 738.31,217.26 739.31,217.23 740.31,217.2 741.31,217.17 742.31,217.14 743.31,217.11 744.31,217.08 745.31,217.04 746.31,217.01 747.31,216.97 748.31,216.94 749.31,216.9 750.31,216.86 751.31,216.83 752.31,216.79 753.31,216.74 754.31,216.7 755.31,216.66 756.32,216.61 757.32,216.57 758.32,216.52 759.32,216.47 760.32,216.42 761.32,216.37 762.32,216.32 763.32,216.27 764.32,216.21 765.32,216.15 766.32,216.1 767.32,216.04 768.32,215.97 769.32,215.91 770.32,215.84 771.32,215.77 772.32,215.7 773.32,215.63 774.32,215.56 775.32,215.48 776.33,215.4 777.33,215.32 778.33,215.23 779.33,215.14 780.33,215.05 781.33,214.96 782.33,214.86 783.33,214.76 784.33,214.65 785.33,214.54 786.33,214.43 787.33,214.31 788.33,214.19 789.33,214.07 790.33,213.94 791.33,213.8 792.33,213.66 793.33,213.51 794.33,213.36 795.33,213.2 796.34,213.03 797.34,212.86 798.34,212.68 799.34,212.49 800.34,212.3 801.34,212.09 802.34,211.88 803.34,211.66 804.34,211.42 805.34,211.18 806.34,210.92 807.34,210.65 808.34,210.37 809.34,210.07 810.34,209.76 811.34,209.43 812.34,209.09 813.34,208.72 814.34,208.34 815.34,207.93 816.35,207.5 817.35,207.04 818.35,206.55 819.35,206.02 820.35,205.47 821.35,204.87 822.35,204.23 823.35,203.54 824.35,202.8 825.35,202 826.35,201.13 827.35,200.23 828.35,199.24 829.35,198.16 830.35,196.97 831.35,195.67 832.35,194.25 833.35,192.68 834.35,190.95 835.35,189.05 836.36,186.97 837.36,184.68 838.36,182.17 839.36,179.42 840.36,176.42 841.36,173.14 842.36,169.57 843.36,165.69 844.36,161.49 845.36,156.97 846.36,152.1 847.36,146.88 848.36,141.32 849.36,135.42 850.36,129.19 851.36,122.66 852.36,115.85 853.36,108.82 854.36,101.62 855.36,94.36 856.37,87.12 857.37,80.05 858.37,73.28 859.37,67.01 860.37,61.4 861.37,56.64 862.37,52.92 863.37,50.38 864.37,49.13 865.37,49.32 866.37,51.38 867.37,55.26 868.37,60.75 869.37,67.57 870.37,75.44 871.37,84.05 872.37,93.13 873.37,102.44 874.37,111.76 875.37,120.94 876.38,129.84 877.38,138.35 878.38,146.39 879.38,153.92 880.38,160.89 881.38,167.29 882.38,173.12 883.38,178.38 884.38,183.1 885.38,187.31 886.38,191.03 887.38,194.31 888.38,197.19 889.38,199.7 890.38,201.89 891.38,203.79 892.38,205.45 893.38,206.88 894.38,208.09 895.38,209.15 896.39,210.08 897.39,210.89 898.39,211.6 899.39,212.24 900.39,212.81 901.39,213.31 902.39,213.78 903.39,214.2 904.39,214.58 905.39,214.93 906.39,215.26 907.39,215.56 908.39,215.85 909.39,216.11 910.39,216.36 911.39,216.59 912.39,216.81 913.39,217.01 914.39,217.21 915.39,217.39 916.4,217.56 917.4,217.73 918.4,217.88 919.4,218.03 920.4,218.17 921.4,218.3 922.4,218.43 923.4,218.55 924.4,218.67 925.4,218.78 926.4,218.88" fill="none" stroke="#3092aa" stroke-width="1.4" stroke-linejoin="round" stroke-linecap="round" />
<text x="951.5" y="32.1" font-family="'Liberation Serif', serif" font-size="33" fill="#000" font-weight="bold" >(c)</text>
<rect x="1005.5" y="21.7" width="322.2" height="236.9" fill="none" stroke="#111" stroke-width="2"/>
<line x1="1005.5" y1="69" x2="1011" y2="69" stroke="#111" stroke-width="1.5" />
<line x1="1005.5" y1="116.5" x2="1011" y2="116.5" stroke="#111" stroke-width="1.5" />
<line x1="1005.5" y1="164" x2="1011" y2="164" stroke="#111" stroke-width="1.5" />
<line x1="1005.5" y1="211" x2="1011" y2="211" stroke="#111" stroke-width="1.5" />
<line x1="1055.6" y1="258.6" x2="1055.6" y2="254.5" stroke="#111" stroke-width="1.5" />
<line x1="1105.8" y1="258.6" x2="1105.8" y2="254.5" stroke="#111" stroke-width="1.5" />
<line x1="1156" y1="258.6" x2="1156" y2="254.5" stroke="#111" stroke-width="1.5" />
<line x1="1206.2" y1="258.6" x2="1206.2" y2="254.5" stroke="#111" stroke-width="1.5" />
<line x1="1256.4" y1="258.6" x2="1256.4" y2="254.5" stroke="#111" stroke-width="1.5" />
<line x1="1306.6" y1="258.6" x2="1306.6" y2="254.5" stroke="#111" stroke-width="1.5" />
<text x="1005.4" y="276" font-family="'Liberation Sans', sans-serif" font-size="14.5" fill="#555" text-anchor="middle" textLength="25" lengthAdjust="spacingAndGlyphs" >550</text>
<text x="1055.6" y="276" font-family="'Liberation Sans', sans-serif" font-size="14.5" fill="#555" text-anchor="middle" textLength="25" lengthAdjust="spacingAndGlyphs" >600</text>
<text x="1105.8" y="276" font-family="'Liberation Sans', sans-serif" font-size="14.5" fill="#555" text-anchor="middle" textLength="25" lengthAdjust="spacingAndGlyphs" >650</text>
<text x="1156" y="276" font-family="'Liberation Sans', sans-serif" font-size="14.5" fill="#555" text-anchor="middle" textLength="25" lengthAdjust="spacingAndGlyphs" >700</text>
<text x="1206.2" y="276" font-family="'Liberation Sans', sans-serif" font-size="14.5" fill="#555" text-anchor="middle" textLength="25" lengthAdjust="spacingAndGlyphs" >750</text>
<text x="1256.4" y="276" font-family="'Liberation Sans', sans-serif" font-size="14.5" fill="#555" text-anchor="middle" textLength="25" lengthAdjust="spacingAndGlyphs" >800</text>
<text x="1306.6" y="276" font-family="'Liberation Sans', sans-serif" font-size="14.5" fill="#555" text-anchor="middle" textLength="25" lengthAdjust="spacingAndGlyphs" >850</text>
<text x="1166" y="305.5" font-family="'Liberation Sans', sans-serif" font-size="21" fill="#111" font-weight="bold" text-anchor="middle" textLength="166.5" lengthAdjust="spacingAndGlyphs" >Wavelength (nm)</text>
<text x="983.5" y="138.6" font-family="'Liberation Sans', sans-serif" font-size="21" fill="#111" font-weight="bold" text-anchor="middle" textLength="148.4" lengthAdjust="spacingAndGlyphs" transform="rotate(-90 983.5 138.6)" >Intensity (a. u.)</text>
<line x1="1019.7" y1="40.7" x2="1050" y2="40.7" stroke="#3c4c80" stroke-width="2" />
<text x="1052.4" y="46" font-family="'Liberation Sans', sans-serif" font-size="14" fill="#111" font-weight="bold" textLength="57.6" lengthAdjust="spacingAndGlyphs" >MoS<tspan font-size="9" dy="5">2</tspan><tspan dy="-5">:Er</tspan></text>
<line x1="1019.7" y1="64" x2="1050" y2="64" stroke="#d07868" stroke-width="2.2" />
<text x="1052.4" y="69.3" font-family="'Liberation Sans', sans-serif" font-size="14" fill="#111" font-weight="bold" textLength="36.6" lengthAdjust="spacingAndGlyphs" >MoS<tspan font-size="9" dy="5">2</tspan></text>
<text x="1015.8" y="91.8" font-family="'Liberation Sans', sans-serif" font-size="13.8" fill="#111" font-weight="bold" textLength="117.2" lengthAdjust="spacingAndGlyphs" >Excitation 980 nm</text>
<polyline points="1006.5,254.05 1009,256.04 1011.5,255.84 1014,253.23 1016.5,253.55 1019,253.21 1021.5,254.85 1024,253.92 1026.5,255.12 1029,251.23 1031.5,256.35 1034,253.86 1036.5,255.02 1039,253.8 1041.5,253.43 1044,254.69 1046.5,255.24 1049,253.7 1051.5,253.77 1054,255.03 1056.5,252.69 1059,251.73 1061.5,254.59 1064,252.99 1066.5,251.12 1069,252.78 1071.5,253.3 1074,252.21 1076.5,251.76 1079,254.05 1081.5,255.35 1084,253.65 1086.5,252.88 1089,254.58 1091.5,255.08 1094,253.55 1096.5,254.82 1099,255.56 1101.5,253.69 1104,252.78 1106.5,254.52 1109,254.37 1111.5,255.65 1114,252.07 1116.5,253.01 1119,252.74 1121.5,251.4 1124,254.19 1126.5,254.79 1129,252.89 1131.5,256.08 1134,255.23 1136.5,254.94 1139,254.6 1141.5,255.43 1144,252 1146.5,254.92 1149,254.9 1151.5,251.35 1154,254.52 1156.5,253.62 1159,255.17 1161.5,253.34 1164,253.97 1166.5,254.51 1169,252.69 1171.5,254.9 1174,253.84 1176.5,254.74 1179,253.22 1181.5,255.63 1184,254.91 1186.5,253.73 1189,254.95 1191.5,255.89 1194,256.69 1196.5,251.64 1199,255.32 1201.5,254.7 1204,253.86 1206.5,252.49 1209,255.89 1211.5,252.11 1214,254.85 1216.5,255.95 1219,251.6 1221.5,253.55 1224,252.04 1226.5,254.37 1229,256.27 1231.5,257.04 1234,251.33 1236.5,253.14 1239,255.06 1241.5,256.37 1244,254.63 1246.5,252.88 1249,254.45 1251.5,253.98 1254,253.69 1256.5,252.9 1259,254.58 1261.5,254.46 1264,253.86 1266.5,253.67 1269,252.07 1271.5,253.27 1274,255.81 1276.5,253.71 1279,251.84 1281.5,256 1284,254.8 1286.5,257.16 1289,254.09 1291.5,253.31 1294,251.83 1296.5,255.99 1299,257.85 1301.5,252.77 1304,253.03 1306.5,254.89 1309,252.75 1311.5,253.59 1314,253.48 1316.5,254.29 1319,255.64 1321.5,254.03 1324,255.38 1326.5,253.37" fill="none" stroke="#d04030" stroke-width="1.4" stroke-linejoin="round" stroke-linecap="round" />
<polyline points="1006.5,251.3 1007.3,248.21 1008.1,248.07 1008.9,249.43 1009.7,247.61 1010.5,248.17 1011.3,247.73 1012.1,248.09 1012.9,247.36 1013.7,247.33 1014.5,246.16 1015.3,245.51 1016.1,245.4 1016.9,245.58 1017.7,244.98 1018.5,245.58 1019.3,246.35 1020.1,247.28 1020.9,247.55 1021.7,247.03 1022.5,249.65 1023.3,250.84 1024.1,252.43 1024.9,252.62 1025.7,251.92 1026.5,251.94 1027.3,254.29 1028.1,252.91 1028.9,253.51 1029.7,253.31 1030.5,250.1 1031.3,250.56 1032.1,249.95 1032.9,249.33 1033.7,248.59 1034.5,247.56 1035.3,246.83 1036.1,244.66 1036.9,245.24 1037.7,244.17 1038.5,244.5 1039.3,243.61 1040.1,244.35 1040.9,244.44 1041.7,244.04 1042.5,244.28 1043.3,244.44 1044.1,244.42 1044.9,245.24 1045.7,245.57 1046.5,247.03 1047.3,247.37 1048.1,248.55 1048.9,247.47 1049.7,250.04 1050.5,249.05 1051.3,249.47 1052.1,250.21 1052.9,249.99 1053.7,250.72 1054.5,249.78 1055.3,249.09 1056.1,248.96 1056.9,250.51 1057.7,248.94 1058.5,247.39 1059.3,247.98 1060.1,246.11 1060.9,248.68 1061.7,245.3 1062.5,246.76 1063.3,246.55 1064.1,244.57 1064.9,246.07 1065.7,246.79 1066.5,246.6 1067.3,246.88 1068.1,248.08 1068.9,248.02 1069.7,248.87 1070.5,249.13 1071.3,250.44 1072.1,249.55 1072.9,251.5 1073.7,250.54 1074.5,250.08 1075.3,251.45 1076.1,252.7 1076.9,252.1 1077.7,250.82 1078.5,251.97 1079.3,250.98 1080.1,251.32 1080.9,251.55 1081.7,249.43 1082.5,251.72 1083.3,250.66 1084.1,250.99 1084.9,250.32 1085.7,250.31 1086.5,250.86 1087.3,252.48 1088.1,253.26 1088.9,251.76 1089.7,252.78 1090.5,251.58 1091.3,250.12 1092.1,251.99 1092.9,252.27 1093.7,251.5 1094.5,252.18 1095.3,252.43 1096.1,251.16 1096.9,250.62 1097.7,251.76 1098.5,251.78 1099.3,251.67 1100.1,252.89 1100.9,253.57 1101.7,251.65 1102.5,252.67 1103.3,252.9 1104.1,252.71 1104.9,253.02 1105.7,251.74 1106.5,252.77 1107.3,253.94 1108.1,252.85 1108.9,251.59 1109.7,252.7 1110.5,253.3 1111.3,252.51 1112.1,251.68 1112.9,253.59 1113.7,251.09 1114.5,252.68 1115.3,252.22 1116.1,251.17 1116.9,253.36 1117.7,252.58 1118.5,251.23 1119.3,252.83 1120.1,251.91 1120.9,250.6 1121.7,251.7 1122.5,252.56 1123.3,252.91 1124.1,252.49 1124.9,252.4 1125.7,252.79 1126.5,252.18 1127.3,253.44 1128.1,252.52 1128.9,252.66 1129.7,252.89 1130.5,251.46 1131.3,251.78 1132.1,253.8 1132.9,252.73 1133.7,252.18 1134.5,252.75 1135.3,252.01 1136.1,252.7 1136.9,251.86 1137.7,252.71 1138.5,251.05 1139.3,253.67 1140.1,252.01 1140.9,251.06 1141.7,252.28 1142.5,252.15 1143.3,252.63 1144.1,251.46 1144.9,252.85 1145.7,255.76 1146.5,251.35 1147.3,252.8 1148.1,252.22 1148.9,252.67 1149.7,250.87 1150.5,251.46 1151.3,252.91 1152.1,252.46 1152.9,253.97 1153.7,251.86 1154.5,252.65 1155.3,255.11 1156.1,251.8 1156.9,251.67 1157.7,252.45 1158.5,252.43 1159.3,253.23 1160.1,252.58 1160.9,251.77 1161.7,252.64 1162.5,254.82 1163.3,253.58 1164.1,249.92 1164.9,252.29 1165.7,251.62 1166.5,252.96 1167.3,252.23 1168.1,254.12 1168.9,253.2 1169.7,253.16 1170.5,252.51 1171.3,252.29 1172.1,252.62 1172.9,253.47 1173.7,252.77 1174.5,251.96 1175.3,253.4 1176.1,252.41 1176.9,252.15 1177.7,251.49 1178.5,251.68 1179.3,251.6 1180.1,249.64 1180.9,253.05 1181.7,252.62 1182.5,251.9 1183.3,253.01 1184.1,252.44 1184.9,252.36 1185.7,249.78 1186.5,251.77 1187.3,252.44 1188.1,253.38 1188.9,253.56 1189.7,253.17 1190.5,250.81 1191.3,249.85 1192.1,252.32 1192.9,251.8 1193.7,252.61 1194.5,251.6 1195.3,251.88 1196.1,250.31 1196.9,252.03 1197.7,251.19 1198.5,251.88 1199.3,251.94 1200.1,251.39 1200.9,251.74 1201.7,251.38 1202.5,252.01 1203.3,251.7 1204.1,250.66 1204.9,250.51 1205.7,252.49 1206.5,250.7 1207.3,251.54 1208.1,250.85 1208.9,249.83 1209.7,249.5 1210.5,250.1 1211.3,250.04 1212.1,250.17 1212.9,248.27 1213.7,248.67 1214.5,248.91 1215.3,250.21 1216.1,246.41 1216.9,248.66 1217.7,247.48 1218.5,248.02 1219.3,246.81 1220.1,247.16 1220.9,247.78 1221.7,246.17 1222.5,245.67 1223.3,244.99 1224.1,243.21 1224.9,243.44 1225.7,241.76 1226.5,240.21 1227.3,238.91 1228.1,237.02 1228.9,235.26 1229.7,231.63 1230.5,226.2 1231.3,220.18 1232.1,212.28 1232.9,204.09 1233.7,195.44 1234.5,187.11 1235.3,179.41 1236.1,171.51 1236.9,163.69 1237.7,155 1238.5,146.04 1239.3,138.3 1240.1,129.86 1240.9,122.89 1241.7,115.23 1242.5,108.27 1243.3,101.96 1244.1,95.19 1244.9,87.92 1245.7,81.97 1246.5,75.51 1247.3,66.16 1248.1,58.25 1248.9,48.8 1249.7,42.3 1250.5,39.31 1251.3,37.6 1252.1,37.59 1252.9,36.71 1253.7,36.2 1254.5,37.59 1255.3,39.49 1256.1,42.69 1256.9,46.21 1257.7,49.31 1258.5,54.43 1259.3,59.59 1260.1,64.78 1260.9,69.64 1261.7,73.94 1262.5,78.86 1263.3,84.28 1264.1,88.88 1264.9,94.22 1265.7,100.35 1266.5,105.85 1267.3,109.62 1268.1,112.06 1268.9,114.04 1269.7,114.75 1270.5,116.78 1271.3,117.56 1272.1,119.66 1272.9,119.67 1273.7,119.74 1274.5,119.51 1275.3,118.26 1276.1,118.82 1276.9,118.63 1277.7,117.55 1278.5,118.47 1279.3,119.88 1280.1,121.2 1280.9,124.68 1281.7,127.66 1282.5,130.08 1283.3,132.54 1284.1,134.98 1284.9,136.17 1285.7,138.69 1286.5,140.98 1287.3,142.19 1288.1,145.12 1288.9,146.95 1289.7,148.95 1290.5,152.65 1291.3,155.77 1292.1,159.96 1292.9,163.37 1293.7,168.18 1294.5,171.57 1295.3,175.86 1296.1,179.21 1296.9,182.66 1297.7,186.18 1298.5,188.71 1299.3,191.32 1300.1,193.78 1300.9,197.32 1301.7,199.8 1302.5,201.98 1303.3,204.65 1304.1,206.6 1304.9,208.9 1305.7,211.18 1306.5,213.7 1307.3,215.69 1308.1,217.23 1308.9,219.54 1309.7,221.26 1310.5,222.67 1311.3,224.53 1312.1,225.56 1312.9,227.04 1313.7,228.59 1314.5,229.69 1315.3,231.19 1316.1,231.6 1316.9,233.6 1317.7,233.84 1318.5,235.04 1319.3,235.57 1320.1,237.19 1320.9,238.32 1321.7,239.1 1322.5,239.82 1323.3,239.75 1324.1,240.73 1324.9,241.49 1325.7,241.92 1326.5,243.17" fill="none" stroke="#2e3f78" stroke-width="1.7" stroke-linejoin="round" stroke-linecap="round" />
<rect x="1038.5" y="102" width="146.2" height="120.8" fill="none" stroke="#777" stroke-width="1.5"/>
<text x="1052.9" y="231.6" font-family="'Liberation Sans', sans-serif" font-size="9" fill="#4a4a4a" text-anchor="middle" textLength="11" lengthAdjust="spacingAndGlyphs" >0.4</text>
<text x="1097.42" y="231.6" font-family="'Liberation Sans', sans-serif" font-size="9" fill="#4a4a4a" text-anchor="middle" textLength="11" lengthAdjust="spacingAndGlyphs" >0.6</text>
<text x="1129" y="231.6" font-family="'Liberation Sans', sans-serif" font-size="9" fill="#4a4a4a" text-anchor="middle" textLength="11" lengthAdjust="spacingAndGlyphs" >0.8</text>
<text x="1153.5" y="231.6" font-family="'Liberation Sans', sans-serif" font-size="9" fill="#4a4a4a" text-anchor="middle" textLength="4.5" lengthAdjust="spacingAndGlyphs" >1</text>
<text x="1173.52" y="231.6" font-family="'Liberation Sans', sans-serif" font-size="9" fill="#4a4a4a" text-anchor="middle" textLength="11" lengthAdjust="spacingAndGlyphs" >1.2</text>
<line x1="1052.9" y1="222.8" x2="1052.9" y2="219.5" stroke="#777" stroke-width="1" />
<line x1="1077.4" y1="222.8" x2="1077.4" y2="219.5" stroke="#777" stroke-width="1" />
<line x1="1097.42" y1="222.8" x2="1097.42" y2="219.5" stroke="#777" stroke-width="1" />
<line x1="1114.34" y1="222.8" x2="1114.34" y2="219.5" stroke="#777" stroke-width="1" />
<line x1="1129" y1="222.8" x2="1129" y2="219.5" stroke="#777" stroke-width="1" />
<line x1="1141.93" y1="222.8" x2="1141.93" y2="219.5" stroke="#777" stroke-width="1" />
<line x1="1153.5" y1="222.8" x2="1153.5" y2="219.5" stroke="#777" stroke-width="1" />
<line x1="1163.96" y1="222.8" x2="1163.96" y2="219.5" stroke="#777" stroke-width="1" />
<line x1="1173.52" y1="222.8" x2="1173.52" y2="219.5" stroke="#777" stroke-width="1" />
<line x1="1038.5" y1="108" x2="1041.5" y2="108" stroke="#777" stroke-width="1" />
<line x1="1038.5" y1="119.5" x2="1041.5" y2="119.5" stroke="#777" stroke-width="1" />
<line x1="1038.5" y1="131" x2="1041.5" y2="131" stroke="#777" stroke-width="1" />
<line x1="1038.5" y1="142.5" x2="1041.5" y2="142.5" stroke="#777" stroke-width="1" />
<line x1="1038.5" y1="154" x2="1041.5" y2="154" stroke="#777" stroke-width="1" />
<line x1="1038.5" y1="165.5" x2="1041.5" y2="165.5" stroke="#777" stroke-width="1" />
<line x1="1038.5" y1="177" x2="1041.5" y2="177" stroke="#777" stroke-width="1" />
<line x1="1038.5" y1="188.5" x2="1041.5" y2="188.5" stroke="#777" stroke-width="1" />
<line x1="1038.5" y1="200" x2="1041.5" y2="200" stroke="#777" stroke-width="1" />
<line x1="1038.5" y1="211.5" x2="1041.5" y2="211.5" stroke="#777" stroke-width="1" />
<text x="1116.7" y="243.8" font-family="'Liberation Sans', sans-serif" font-size="11.9" fill="#222" font-weight="bold" text-anchor="middle" textLength="93.8" lengthAdjust="spacingAndGlyphs" >Pump power (W)</text>
<text x="1027.8" y="160.8" font-family="'Liberation Sans', sans-serif" font-size="10.5" fill="#222" font-weight="bold" text-anchor="middle" textLength="85" lengthAdjust="spacingAndGlyphs" transform="rotate(-90 1027.8 160.8)" >Intensity (a. u.)</text>
<text x="1049.9" y="125.5" font-family="'Liberation Sans', sans-serif" font-size="11.8" fill="#222" font-weight="bold" textLength="68.6" lengthAdjust="spacingAndGlyphs" >Slope = 1.57</text>
<line x1="1053.4" y1="213.4" x2="1175.3" y2="119.6" stroke="#c05040" stroke-width="1.3" />
<circle cx="1054.5" cy="212.2" r="1.7" fill="#222"/>
<circle cx="1087.4" cy="184.6" r="1.7" fill="#222"/>
<circle cx="1110.8" cy="170.5" r="1.7" fill="#222"/>
<circle cx="1128.4" cy="156.7" r="1.7" fill="#222"/>
<circle cx="1143.6" cy="144.9" r="1.7" fill="#222"/>
<circle cx="1165.9" cy="131.8" r="1.7" fill="#222"/>
<circle cx="1176" cy="116.8" r="1.7" fill="#222"/>
<text x="13.4" y="349" font-family="'Liberation Serif', serif" font-size="33" fill="#000" font-weight="bold" >(d)</text>
<rect x="69.4" y="340.2" width="324.6" height="239.3" fill="none" stroke="#111" stroke-width="2"/>
<line x1="69.4" y1="400" x2="75.5" y2="400" stroke="#111" stroke-width="1.5" />
<line x1="69.4" y1="460" x2="75.5" y2="460" stroke="#111" stroke-width="1.5" />
<line x1="69.4" y1="520" x2="75.5" y2="520" stroke="#111" stroke-width="1.5" />
<line x1="69.4" y1="370" x2="73.5" y2="370" stroke="#111" stroke-width="1.5" />
<line x1="69.4" y1="430" x2="73.5" y2="430" stroke="#111" stroke-width="1.5" />
<line x1="69.4" y1="490" x2="73.5" y2="490" stroke="#111" stroke-width="1.5" />
<line x1="69.4" y1="550" x2="73.5" y2="550" stroke="#111" stroke-width="1.5" />
<line x1="109.96" y1="579.5" x2="109.96" y2="575" stroke="#111" stroke-width="1.5" />
<line x1="150.53" y1="579.5" x2="150.53" y2="575" stroke="#111" stroke-width="1.5" />
<line x1="191.09" y1="579.5" x2="191.09" y2="575" stroke="#111" stroke-width="1.5" />
<line x1="231.65" y1="579.5" x2="231.65" y2="575" stroke="#111" stroke-width="1.5" />
<line x1="272.21" y1="579.5" x2="272.21" y2="575" stroke="#111" stroke-width="1.5" />
<line x1="312.77" y1="579.5" x2="312.77" y2="575" stroke="#111" stroke-width="1.5" />
<line x1="353.34" y1="579.5" x2="353.34" y2="575" stroke="#111" stroke-width="1.5" />
<text x="69.4" y="597.2" font-family="'Liberation Sans', sans-serif" font-size="14.5" fill="#555" text-anchor="middle" textLength="30" lengthAdjust="spacingAndGlyphs" >1450</text>
<text x="150.53" y="597.2" font-family="'Liberation Sans', sans-serif" font-size="14.5" fill="#555" text-anchor="middle" textLength="30" lengthAdjust="spacingAndGlyphs" >1500</text>
<text x="231.65" y="597.2" font-family="'Liberation Sans', sans-serif" font-size="14.5" fill="#555" text-anchor="middle" textLength="30" lengthAdjust="spacingAndGlyphs" >1550</text>
<text x="312.77" y="597.2" font-family="'Liberation Sans', sans-serif" font-size="14.5" fill="#555" text-anchor="middle" textLength="30" lengthAdjust="spacingAndGlyphs" >1600</text>
<text x="393.9" y="597.2" font-family="'Liberation Sans', sans-serif" font-size="14.5" fill="#555" text-anchor="middle" textLength="30" lengthAdjust="spacingAndGlyphs" >1650</text>
<text x="231.8" y="627" font-family="'Liberation Sans', sans-serif" font-size="21" fill="#111" font-weight="bold" text-anchor="middle" textLength="167.8" lengthAdjust="spacingAndGlyphs" >Wavelength (nm)</text>
<text x="53.5" y="458.5" font-family="'Liberation Sans', sans-serif" font-size="21" fill="#111" font-weight="bold" text-anchor="middle" textLength="148" lengthAdjust="spacingAndGlyphs" transform="rotate(-90 53.5 458.5)" >Intensity (a. u.)</text>
<text x="79.5" y="361.2" font-family="'Liberation Sans', sans-serif" font-size="13.8" fill="#222" font-weight="bold" textLength="119.25" lengthAdjust="spacingAndGlyphs" >Excitation 980 nm</text>
<line x1="292" y1="362.5" x2="321.25" y2="362.5" stroke="#4a6090" stroke-width="2" />
<text x="325" y="367.6" font-family="'Liberation Sans', sans-serif" font-size="14" fill="#111" font-weight="bold" textLength="57.5" lengthAdjust="spacingAndGlyphs" >MoS<tspan font-size="9" dy="5">2</tspan><tspan dy="-5">:Er</tspan></text>
<line x1="292" y1="386.2" x2="321.25" y2="386.2" stroke="#e07060" stroke-width="2" />
<text x="325" y="391.3" font-family="'Liberation Sans', sans-serif" font-size="14" fill="#111" font-weight="bold" >MoS<tspan font-size="9" dy="5">2</tspan></text>
<text x="167.2" y="500.2" font-family="'Liberation Sans', sans-serif" font-size="13.5" fill="#222" font-weight="bold" >Er</text>
<text x="180.6" y="494" font-family="'Liberation Sans', sans-serif" font-size="8" fill="#222" font-weight="bold" textLength="9.5" lengthAdjust="spacingAndGlyphs" >3+</text>
<text x="191.8" y="500.2" font-family="'Liberation Sans', sans-serif" font-size="13.5" fill="#222" font-weight="bold" >:</text>
<text x="196.6" y="494" font-family="'Liberation Sans', sans-serif" font-size="8" fill="#222" font-weight="bold" >4</text>
<text x="200.8" y="500.2" font-family="'Liberation Sans', sans-serif" font-size="13.5" fill="#222" font-weight="bold" >I</text>
<text x="205.7" y="504.8" font-family="'Liberation Sans', sans-serif" font-size="8.5" fill="#222" font-weight="bold" textLength="15.3" lengthAdjust="spacingAndGlyphs" >13/2</text>
<line x1="222" y1="496.9" x2="230.4" y2="496.9" stroke="#222" stroke-width="1.0" />
<polygon points="234.4,496.9 229.9,494.7 231.03,496.9 229.9,499.1" fill="#222"/>
<text x="235.5" y="494" font-family="'Liberation Sans', sans-serif" font-size="8" fill="#222" font-weight="bold" >4</text>
<text x="239.8" y="500.2" font-family="'Liberation Sans', sans-serif" font-size="13.5" fill="#222" font-weight="bold" >I</text>
<text x="245.1" y="504.8" font-family="'Liberation Sans', sans-serif" font-size="8.5" fill="#222" font-weight="bold" textLength="14.8" lengthAdjust="spacingAndGlyphs" >15/2</text>
<polyline points="69.5,489.4 70.5,488.96 71.5,488.53 72.5,488.09 73.5,487.65 74.5,487.22 75.5,486.78 76.5,486.35 77.5,485.91 78.5,485.47 79.5,485.04 80.5,484.6 81.5,484.16 82.5,483.73 83.5,483.29 84.5,482.85 85.5,482.42 86.5,481.98 87.5,481.54 88.5,481.11 89.5,480.67 90.5,480.23 91.5,479.8 92.5,479.36 93.5,478.92 94.5,478.49 95.5,478.05 96.5,477.6 97.5,477.15 98.5,476.69 99.5,476.23 100.5,475.77 101.5,475.3 102.5,474.83 103.5,474.36 104.5,473.9 105.5,473.43 106.5,472.97 107.5,472.51 108.5,472.06 109.5,471.61 110.5,471.17 111.5,470.73 112.5,470.31 113.5,469.89 114.5,469.49 115.5,469.1 116.5,468.72 117.5,468.35 118.5,468 119.5,467.67 120.5,467.36 121.5,467.06 122.5,466.78 123.5,466.52 124.5,466.26 125.5,466.02 126.5,465.77 127.5,465.54 128.5,465.3 129.5,465.06 130.5,464.81 131.5,464.56 132.5,464.3 133.5,464.02 134.5,463.73 135.5,463.43 136.5,463.1 137.5,462.75 138.5,462.38 139.5,461.98 140.5,461.53 141.5,461.04 142.5,460.51 143.5,459.94 144.5,459.34 145.5,458.7 146.5,458.02 147.5,457.32 148.5,456.59 149.5,455.84 150.5,455.07 151.5,454.28 152.5,453.44 153.5,452.54 154.5,451.59 155.5,450.6 156.5,449.56 157.5,448.49 158.5,447.38 159.5,446.24 160.5,445.07 161.5,443.87 162.5,442.66 163.5,441.43 164.5,440.18 165.5,438.93 166.5,437.66 167.5,436.35 168.5,434.98 169.5,433.57 170.5,432.11 171.5,430.62 172.5,429.1 173.5,427.56 174.5,426 175.5,424.43 176.5,422.85 177.5,421.26 178.5,419.69 179.5,418.12 180.5,416.56 181.5,415.02 182.5,413.52 183.5,412.04 184.5,410.57 185.5,409.04 186.5,407.45 187.5,405.84 188.5,404.21 189.5,402.58 190.5,400.97 191.5,399.4 192.5,397.88 193.5,396.44 194.5,395.08 195.5,393.83 196.5,392.7 197.5,391.71 198.5,390.87 199.5,390.14 200.5,389.42 201.5,388.7 202.5,388 203.5,387.32 204.5,386.67 205.5,386.05 206.5,385.47 207.5,384.93 208.5,384.44 209.5,384 210.5,383.62 211.5,383.31 212.5,383.07 213.5,382.9 214.5,382.81 215.5,382.81 216.5,382.9 217.5,383.08 218.5,383.33 219.5,383.64 220.5,384.01 221.5,384.42 222.5,384.87 223.5,385.35 224.5,385.85 225.5,386.35 226.5,386.95 227.5,387.68 228.5,388.55 229.5,389.53 230.5,390.61 231.5,391.79 232.5,393.06 233.5,394.39 234.5,395.78 235.5,397.22 236.5,398.69 237.5,400.19 238.5,401.7 239.5,403.21 240.5,404.71 241.5,406.18 242.5,407.62 243.5,409.02 244.5,410.46 245.5,411.97 246.5,413.54 247.5,415.16 248.5,416.83 249.5,418.53 250.5,420.26 251.5,422.01 252.5,423.77 253.5,425.54 254.5,427.3 255.5,429.05 256.5,430.78 257.5,432.48 258.5,434.14 259.5,435.76 260.5,437.33 261.5,438.84 262.5,440.28 263.5,441.64 264.5,442.92 265.5,444.11 266.5,445.2 267.5,446.18 268.5,447.11 269.5,447.99 270.5,448.83 271.5,449.63 272.5,450.4 273.5,451.13 274.5,451.83 275.5,452.51 276.5,453.16 277.5,453.8 278.5,454.42 279.5,455.02 280.5,455.59 281.5,456.13 282.5,456.65 283.5,457.15 284.5,457.64 285.5,458.11 286.5,458.58 287.5,459.04 288.5,459.51 289.5,459.98 290.5,460.46 291.5,460.95 292.5,461.46 293.5,461.99 294.5,462.54 295.5,463.09 296.5,463.65 297.5,464.21 298.5,464.77 299.5,465.35 300.5,465.93 301.5,466.52 302.5,467.12 303.5,467.73 304.5,468.36 305.5,469 306.5,469.65 307.5,470.32 308.5,471 309.5,471.7 310.5,472.41 311.5,473.14 312.5,473.89 313.5,474.64 314.5,475.42 315.5,476.2 316.5,477.01 317.5,477.82 318.5,478.66 319.5,479.51 320.5,480.37 321.5,481.25 322.5,482.15 323.5,483.06 324.5,483.99 325.5,484.94 326.5,485.9 327.5,486.9 328.5,487.95 329.5,489.04 330.5,490.17 331.5,491.34 332.5,492.53 333.5,493.74 334.5,494.97 335.5,496.21 336.5,497.45 337.5,498.69 338.5,499.93 339.5,501.16 340.5,502.37 341.5,503.55 342.5,504.71 343.5,505.84 344.5,506.92 345.5,508.02 346.5,509.12 347.5,510.23 348.5,511.35 349.5,512.47 350.5,513.58 351.5,514.68 352.5,515.76 353.5,516.83 354.5,517.87 355.5,518.88 356.5,519.85 357.5,520.79 358.5,521.68 359.5,522.53 360.5,523.32 361.5,524.06 362.5,524.74 363.5,525.41 364.5,526.07 365.5,526.73 366.5,527.38 367.5,528.01 368.5,528.63 369.5,529.22 370.5,529.8 371.5,530.34 372.5,530.86 373.5,531.34 374.5,531.78 375.5,532.19 376.5,532.55 377.5,532.87 378.5,533.13 379.5,533.35 380.5,533.52 381.5,533.68 382.5,533.84 383.5,533.99 384.5,534.14 385.5,534.27 386.5,534.39 387.5,534.5 388.5,534.59 389.5,534.67 390.5,534.73 391.5,534.78 392.5,534.8" fill="none" stroke="#34477a" stroke-width="2.0" stroke-linejoin="round" stroke-linecap="round" />
<polyline points="70.5,543.44 74.1,542.55 77.7,544.38 81.3,545.51 84.9,546.73 88.5,544.99 92.1,543.86 95.7,543.47 99.3,546.07 102.9,547.58 106.5,545.26 110.1,542.7 113.7,543.17 117.3,547.52 120.9,545.14 124.5,541.86 128.1,544.66 131.7,542.82 135.3,543.73 138.9,543.97 142.5,543.59 146.1,545.74 149.7,544.69 153.3,543.8 156.9,545.5 160.5,546.21 164.1,542.01 167.7,544.36 171.3,543.13 174.9,544.51 178.5,542.61 182.1,544.84 185.7,544.74 189.3,544.28 192.9,543.02 196.5,544.13 200.1,542.94 203.7,542.5 207.3,545.18 210.9,542.91 214.5,546.79 218.1,546.02 221.7,541.4 225.3,545.26 228.9,542.93 232.5,544.86 236.1,544.87 239.7,541.42 243.3,544.4 246.9,544.37 250.5,546.44 254.1,542.79 257.7,546.05 261.3,542.93 264.9,544.24 268.5,543.37 272.1,547.26 275.7,545.77 279.3,548.93 282.9,533.5 286.5,546.24 290.1,546.23 293.7,543.77 297.3,544.68 300.9,547.1 304.5,544.13 308.1,545.12 311.7,544.76 315.3,545.84 318.9,537.5 322.5,544.54 326.1,536.5 329.7,544.98 333.3,543.33 336.9,546.32 340.5,542.59 344.1,542.76 347.7,542.62 351.3,546.44 354.9,544.19 358.5,543.15 362.1,542.87 365.7,545.52 369.3,543.01 372.9,542.64 376.5,545.84 380.1,542.77 383.7,544.25 387.3,544.79 390.9,544.04" fill="none" stroke="#c84038" stroke-width="1.4" stroke-linejoin="round" stroke-linecap="round" />
<text x="469.3" y="352" font-family="'Liberation Serif', serif" font-size="33" fill="#000" font-weight="bold" >(e)</text>
<rect x="519.5" y="336.25" width="309.25" height="247.9" fill="none" stroke="#000" stroke-width="2.6"/>
<line x1="519.5" y1="377.8" x2="525.5" y2="377.8" stroke="#000" stroke-width="2" />
<line x1="519.5" y1="421.6" x2="525.5" y2="421.6" stroke="#000" stroke-width="2" />
<line x1="519.5" y1="465.3" x2="525.5" y2="465.3" stroke="#000" stroke-width="2" />
<line x1="519.5" y1="507.5" x2="525.5" y2="507.5" stroke="#000" stroke-width="2" />
<line x1="519.5" y1="550.5" x2="525.5" y2="550.5" stroke="#000" stroke-width="2" />
<line x1="519.5" y1="357" x2="523" y2="357" stroke="#000" stroke-width="2" />
<line x1="519.5" y1="399.7" x2="523" y2="399.7" stroke="#000" stroke-width="2" />
<line x1="519.5" y1="443.4" x2="523" y2="443.4" stroke="#000" stroke-width="2" />
<line x1="519.5" y1="485.6" x2="523" y2="485.6" stroke="#000" stroke-width="2" />
<line x1="519.5" y1="527.8" x2="523" y2="527.8" stroke="#000" stroke-width="2" />
<line x1="519.5" y1="572" x2="523" y2="572" stroke="#000" stroke-width="2" />
<line x1="533.75" y1="584" x2="533.75" y2="578" stroke="#000" stroke-width="2" />
<line x1="592.59" y1="584" x2="592.59" y2="578" stroke="#000" stroke-width="2" />
<line x1="651.43" y1="584" x2="651.43" y2="578" stroke="#000" stroke-width="2" />
<line x1="710.27" y1="584" x2="710.27" y2="578" stroke="#000" stroke-width="2" />
<line x1="769.11" y1="584" x2="769.11" y2="578" stroke="#000" stroke-width="2" />
<line x1="827.95" y1="584" x2="827.95" y2="578" stroke="#000" stroke-width="2" />
<line x1="563.17" y1="584" x2="563.17" y2="580.5" stroke="#000" stroke-width="2" />
<line x1="622.01" y1="584" x2="622.01" y2="580.5" stroke="#000" stroke-width="2" />
<line x1="680.85" y1="584" x2="680.85" y2="580.5" stroke="#000" stroke-width="2" />
<line x1="739.69" y1="584" x2="739.69" y2="580.5" stroke="#000" stroke-width="2" />
<line x1="798.53" y1="584" x2="798.53" y2="580.5" stroke="#000" stroke-width="2" />
<text x="533.75" y="606.5" font-family="'Liberation Serif', serif" font-size="17" fill="#111" font-weight="bold" text-anchor="middle" textLength="30.5" lengthAdjust="spacingAndGlyphs" >1528</text>
<text x="592.59" y="606.5" font-family="'Liberation Serif', serif" font-size="17" fill="#111" font-weight="bold" text-anchor="middle" textLength="30.5" lengthAdjust="spacingAndGlyphs" >1532</text>
<text x="651.43" y="606.5" font-family="'Liberation Serif', serif" font-size="17" fill="#111" font-weight="bold" text-anchor="middle" textLength="30.5" lengthAdjust="spacingAndGlyphs" >1536</text>
<text x="710.27" y="606.5" font-family="'Liberation Serif', serif" font-size="17" fill="#111" font-weight="bold" text-anchor="middle" textLength="30.5" lengthAdjust="spacingAndGlyphs" >1540</text>
<text x="769.11" y="606.5" font-family="'Liberation Serif', serif" font-size="17" fill="#111" font-weight="bold" text-anchor="middle" textLength="30.5" lengthAdjust="spacingAndGlyphs" >1544</text>
<text x="827.95" y="606.5" font-family="'Liberation Serif', serif" font-size="17" fill="#111" font-weight="bold" text-anchor="middle" textLength="30.5" lengthAdjust="spacingAndGlyphs" >1548</text>
<text x="673.3" y="623" font-family="'Liberation Serif', serif" font-size="21.5" fill="#111" font-weight="bold" text-anchor="middle" textLength="156" lengthAdjust="spacingAndGlyphs" >Wavelength (nm)</text>
<text x="497.5" y="452.6" font-family="'Liberation Serif', serif" font-size="20.8" fill="#111" font-weight="bold" text-anchor="middle" textLength="133" lengthAdjust="spacingAndGlyphs" transform="rotate(-90 497.5 452.6)" >Intensity (a.u.)</text>
<text x="656.5" y="372" font-family="'Liberation Serif', serif" font-size="17.3" fill="#111" font-weight="bold" textLength="23.5" lengthAdjust="spacingAndGlyphs" >Er:</text>
<text x="686.3" y="364" font-family="'Liberation Serif', serif" font-size="10" fill="#111" font-weight="bold" >4</text>
<text x="691" y="372" font-family="'Liberation Serif', serif" font-size="17.3" fill="#111" font-weight="bold" >I</text>
<text x="699.3" y="375.2" font-family="'Liberation Serif', serif" font-size="10.5" fill="#111" font-weight="bold" textLength="18" lengthAdjust="spacingAndGlyphs" >13/2</text>
<line x1="718.6" y1="366.1" x2="727.9" y2="366.1" stroke="#111" stroke-width="1.3" />
<polygon points="733.4,366.1 727.4,363.5 728.9,366.1 727.4,368.7" fill="#111"/>
<text x="734.4" y="364" font-family="'Liberation Serif', serif" font-size="10" fill="#111" font-weight="bold" >4</text>
<text x="739.3" y="372" font-family="'Liberation Serif', serif" font-size="17.3" fill="#111" font-weight="bold" >I</text>
<text x="747.3" y="375.2" font-family="'Liberation Serif', serif" font-size="10.5" fill="#111" font-weight="bold" textLength="18.4" lengthAdjust="spacingAndGlyphs" >15/2</text>
<polyline points="520.5,544.5 521.5,542.82 522.5,541.17 523.5,539.55 524.5,537.96 525.5,536.42 526.5,534.93 527.5,533.48 528.5,532.1 529.5,530.78 530.5,529.52 531.5,528.33 532.5,527.17 533.5,526.05 534.5,524.97 535.5,523.91 536.5,522.89 537.5,521.89 538.5,520.92 539.5,519.96 540.5,519.02 541.5,518.1 542.5,517.19 543.5,516.29 544.5,515.4 545.5,514.51 546.5,513.62 547.5,512.75 548.5,511.88 549.5,511.04 550.5,510.2 551.5,509.38 552.5,508.56 553.5,507.76 554.5,506.97 555.5,506.18 556.5,505.4 557.5,504.63 558.5,503.87 559.5,503.11 560.5,502.35 561.5,501.6 562.5,500.85 563.5,500.1 564.5,499.34 565.5,498.59 566.5,497.84 567.5,497.09 568.5,496.35 569.5,495.62 570.5,494.9 571.5,494.19 572.5,493.5 573.5,492.82 574.5,492.16 575.5,491.52 576.5,490.9 577.5,490.3 578.5,489.72 579.5,489.16 580.5,488.61 581.5,488.07 582.5,487.54 583.5,487.02 584.5,486.52 585.5,486.02 586.5,485.53 587.5,485.06 588.5,484.58 589.5,484.12 590.5,483.66 591.5,483.21 592.5,482.77 593.5,482.32 594.5,481.88 595.5,481.45 596.5,481.01 597.5,480.58 598.5,480.16 599.5,479.74 600.5,479.32 601.5,478.92 602.5,478.52 603.5,478.14 604.5,477.76 605.5,477.4 606.5,477.05 607.5,476.72 608.5,476.39 609.5,476.08 610.5,475.77 611.5,475.46 612.5,475.15 613.5,474.85 614.5,474.55 615.5,474.25 616.5,473.96 617.5,473.68 618.5,473.41 619.5,473.15 620.5,472.9 621.5,472.66 622.5,472.44 623.5,472.24 624.5,472.05 625.5,471.88 626.5,471.73 627.5,471.6 628.5,471.48 629.5,471.37 630.5,471.25 631.5,471.14 632.5,471.04 633.5,470.94 634.5,470.85 635.5,470.77 636.5,470.71 637.5,470.66 638.5,470.62 639.5,470.6 640.5,470.61 641.5,470.68 642.5,470.8 643.5,470.96 644.5,471.16 645.5,471.38 646.5,471.61 647.5,471.83 648.5,472.04 649.5,472.22 650.5,472.37 651.5,472.47 652.5,472.5 653.5,472.4 654.5,472.13 655.5,471.7 656.5,471.13 657.5,470.45 658.5,469.68 659.5,468.83 660.5,467.93 661.5,467 662.5,466.06 663.5,465.13 664.5,464.23 665.5,463.37 666.5,462.48 667.5,461.54 668.5,460.56 669.5,459.54 670.5,458.49 671.5,457.4 672.5,456.29 673.5,455.15 674.5,453.99 675.5,452.81 676.5,451.61 677.5,450.4 678.5,449.18 679.5,447.95 680.5,446.72 681.5,445.48 682.5,444.21 683.5,442.92 684.5,441.6 685.5,440.26 686.5,438.9 687.5,437.52 688.5,436.12 689.5,434.7 690.5,433.27 691.5,431.82 692.5,430.36 693.5,428.88 694.5,427.4 695.5,425.9 696.5,424.4 697.5,422.86 698.5,421.29 699.5,419.68 700.5,418.04 701.5,416.39 702.5,414.73 703.5,413.06 704.5,411.39 705.5,409.73 706.5,408.09 707.5,406.46 708.5,404.87 709.5,403.27 710.5,401.56 711.5,399.8 712.5,398.02 713.5,396.28 714.5,394.64 715.5,393.14 716.5,391.84 717.5,390.79 718.5,390.01 719.5,389.3 720.5,388.63 721.5,388.05 722.5,387.59 723.5,387.29 724.5,387.2 725.5,387.26 726.5,387.41 727.5,387.64 728.5,387.93 729.5,388.29 730.5,388.7 731.5,389.16 732.5,389.64 733.5,390.15 734.5,390.74 735.5,391.62 736.5,392.73 737.5,394.01 738.5,395.4 739.5,396.82 740.5,398.23 741.5,399.54 742.5,400.7 743.5,401.66 744.5,402.51 745.5,403.28 746.5,404 747.5,404.68 748.5,405.34 749.5,405.98 750.5,406.63 751.5,407.3 752.5,408.01 753.5,408.77 754.5,409.59 755.5,410.5 756.5,411.52 757.5,412.64 758.5,413.86 759.5,415.16 760.5,416.53 761.5,417.96 762.5,419.43 763.5,420.93 764.5,422.44 765.5,423.96 766.5,425.46 767.5,426.93 768.5,428.38 769.5,429.84 770.5,431.32 771.5,432.83 772.5,434.36 773.5,435.9 774.5,437.45 775.5,439 776.5,440.55 777.5,442.09 778.5,443.62 779.5,445.13 780.5,446.61 781.5,448.07 782.5,449.5 783.5,450.89 784.5,452.25 785.5,453.63 786.5,455.01 787.5,456.38 788.5,457.74 789.5,459.08 790.5,460.39 791.5,461.66 792.5,462.88 793.5,464.04 794.5,465.13 795.5,466.15 796.5,467.08 797.5,467.95 798.5,468.76 799.5,469.53 800.5,470.26 801.5,470.96 802.5,471.63 803.5,472.28 804.5,472.91 805.5,473.54 806.5,474.17 807.5,474.8 808.5,475.44 809.5,476.11 810.5,476.79 811.5,477.5 812.5,478.25 813.5,479 814.5,479.77 815.5,480.54 816.5,481.31 817.5,482.1 818.5,482.89 819.5,483.68 820.5,484.49 821.5,485.3 822.5,486.12 823.5,486.94 824.5,487.77 825.5,488.61 826.5,489.45 827.5,490.3" fill="none" stroke="#a82a2a" stroke-width="2.4" stroke-linejoin="round" stroke-linecap="round" />
<polyline points="521,551.23 523.1,548.01 525.2,545.64 527.3,549.4 529.4,549.48 531.5,549.65 533.6,543.51 535.7,549.64 537.8,544.14 539.9,555.28 542,549.96 544.1,549.55 546.2,546.38 548.3,549.33 550.4,549.06 552.5,552.53 554.6,550.14 556.7,549.63 558.8,550.47 560.9,549.66 563,549.82 565.1,550.88 567.2,550.18 569.3,549.45 571.4,549.67 573.5,545.63 575.6,551.15 577.7,549.61 579.8,549.63 581.9,546.31 584,549.18 586.1,549.6 588.2,550.42 590.3,550.21 592.4,549.86 594.5,550.27 596.6,547.82 598.7,550.51 600.8,549.13 602.9,548.63 605,549.99 607.1,550.29 609.2,549.49 611.3,549.05 613.4,544.94 615.5,549.76 617.6,550.78 619.7,550.32 621.8,549.94 623.9,550.58 626,549.66 628.1,543.12 630.2,550.21 632.3,550.21 634.4,546.25 636.5,549.25 638.6,549.96 640.7,548.05 642.8,550.28 644.9,550.14 647,543.95 649.1,549.84 651.2,549.13 653.3,544.49 655.4,548.38 657.5,549.16 659.6,550.3 661.7,550.61 663.8,548.29 665.9,552.27 668,544.87 670.1,549.37 672.2,550.91 674.3,543.78 676.4,550.05 678.5,551.69 680.6,550.78 682.7,549.78 684.8,549.54 686.9,548.6 689,550.98 691.1,550.33 693.2,550.33 695.3,550.6 697.4,550.04 699.5,549.35 701.6,549.24 703.7,549.24 705.8,550.76 707.9,551 710,543.4 712.1,549.58 714.2,552.36 716.3,553.1 718.4,548.93 720.5,548.59 722.6,553.11 724.7,550.65 726.8,550.33 728.9,549.95 731,549.58 733.1,550.01 735.2,549.63 737.3,550.37 739.4,552 741.5,549.89 743.6,549.72 745.7,544.86 747.8,549.96 749.9,548.1 752,550.85 754.1,550.85 756.2,548.37 758.3,549.56 760.4,549.37 762.5,550.17 764.6,548.2 766.7,546.88 768.8,550.55 770.9,548.89 773,549.12 775.1,549.24 777.2,549.83 779.3,550.25 781.4,551.23 783.5,551.94 785.6,550.34 787.7,544.49 789.8,551.03 791.9,552.39 794,550.76 796.1,549.05 798.2,549.67 800.3,549.23 802.4,550.85 804.5,543.96 806.6,543.3 808.7,549.48 810.8,550.14 812.9,544.74 815,549.15 817.1,550.14 819.2,551.52 821.3,545.22 823.4,549.41 825.5,543.06 827.6,548.87" fill="none" stroke="#000" stroke-width="2.0" stroke-linejoin="round" stroke-linecap="round" />
<text x="897" y="351" font-family="'Liberation Serif', serif" font-size="33" fill="#000" font-weight="bold" >(f)</text>
<rect x="955.5" y="377" width="124" height="209.3" fill="none" stroke="#666" stroke-width="1.4"/>
<line x1="969.65" y1="586.3" x2="969.65" y2="582.5" stroke="#666" stroke-width="1.1" />
<line x1="969.65" y1="377" x2="969.65" y2="380.8" stroke="#666" stroke-width="1.1" />
<line x1="985.45" y1="586.3" x2="985.45" y2="582.5" stroke="#666" stroke-width="1.1" />
<line x1="985.45" y1="377" x2="985.45" y2="380.8" stroke="#666" stroke-width="1.1" />
<line x1="1001.25" y1="586.3" x2="1001.25" y2="582.5" stroke="#666" stroke-width="1.1" />
<line x1="1001.25" y1="377" x2="1001.25" y2="380.8" stroke="#666" stroke-width="1.1" />
<line x1="1017.05" y1="586.3" x2="1017.05" y2="582.5" stroke="#666" stroke-width="1.1" />
<line x1="1017.05" y1="377" x2="1017.05" y2="380.8" stroke="#666" stroke-width="1.1" />
<line x1="1032.85" y1="586.3" x2="1032.85" y2="582.5" stroke="#666" stroke-width="1.1" />
<line x1="1032.85" y1="377" x2="1032.85" y2="380.8" stroke="#666" stroke-width="1.1" />
<line x1="1048.65" y1="586.3" x2="1048.65" y2="582.5" stroke="#666" stroke-width="1.1" />
<line x1="1048.65" y1="377" x2="1048.65" y2="380.8" stroke="#666" stroke-width="1.1" />
<line x1="1064.45" y1="586.3" x2="1064.45" y2="582.5" stroke="#666" stroke-width="1.1" />
<line x1="1064.45" y1="377" x2="1064.45" y2="380.8" stroke="#666" stroke-width="1.1" />
<text x="1001.25" y="604.8" font-family="'Liberation Sans', sans-serif" font-size="16.5" fill="#444" text-anchor="middle" textLength="22.6" lengthAdjust="spacingAndGlyphs" >1.0</text>
<text x="1064.5" y="604.8" font-family="'Liberation Sans', sans-serif" font-size="16.5" fill="#444" text-anchor="middle" textLength="22.6" lengthAdjust="spacingAndGlyphs" >1.2</text>
<rect x="1079.5" y="377" width="124.75" height="209.3" fill="none" stroke="#666" stroke-width="1.4"/>
<line x1="1093.65" y1="586.3" x2="1093.65" y2="582.5" stroke="#666" stroke-width="1.1" />
<line x1="1093.65" y1="377" x2="1093.65" y2="380.8" stroke="#666" stroke-width="1.1" />
<line x1="1109.45" y1="586.3" x2="1109.45" y2="582.5" stroke="#666" stroke-width="1.1" />
<line x1="1109.45" y1="377" x2="1109.45" y2="380.8" stroke="#666" stroke-width="1.1" />
<line x1="1125.25" y1="586.3" x2="1125.25" y2="582.5" stroke="#666" stroke-width="1.1" />
<line x1="1125.25" y1="377" x2="1125.25" y2="380.8" stroke="#666" stroke-width="1.1" />
<line x1="1141.05" y1="586.3" x2="1141.05" y2="582.5" stroke="#666" stroke-width="1.1" />
<line x1="1141.05" y1="377" x2="1141.05" y2="380.8" stroke="#666" stroke-width="1.1" />
<line x1="1156.85" y1="586.3" x2="1156.85" y2="582.5" stroke="#666" stroke-width="1.1" />
<line x1="1156.85" y1="377" x2="1156.85" y2="380.8" stroke="#666" stroke-width="1.1" />
<line x1="1172.65" y1="586.3" x2="1172.65" y2="582.5" stroke="#666" stroke-width="1.1" />
<line x1="1172.65" y1="377" x2="1172.65" y2="380.8" stroke="#666" stroke-width="1.1" />
<line x1="1188.45" y1="586.3" x2="1188.45" y2="582.5" stroke="#666" stroke-width="1.1" />
<line x1="1188.45" y1="377" x2="1188.45" y2="380.8" stroke="#666" stroke-width="1.1" />
<text x="1125.25" y="604.8" font-family="'Liberation Sans', sans-serif" font-size="16.5" fill="#444" text-anchor="middle" textLength="22.6" lengthAdjust="spacingAndGlyphs" >1.0</text>
<text x="1188.5" y="604.8" font-family="'Liberation Sans', sans-serif" font-size="16.5" fill="#444" text-anchor="middle" textLength="22.6" lengthAdjust="spacingAndGlyphs" >1.2</text>
<rect x="1204.25" y="377" width="123.25" height="209.3" fill="none" stroke="#666" stroke-width="1.4"/>
<line x1="1218.4" y1="586.3" x2="1218.4" y2="582.5" stroke="#666" stroke-width="1.1" />
<line x1="1218.4" y1="377" x2="1218.4" y2="380.8" stroke="#666" stroke-width="1.1" />
<line x1="1234.2" y1="586.3" x2="1234.2" y2="582.5" stroke="#666" stroke-width="1.1" />
<line x1="1234.2" y1="377" x2="1234.2" y2="380.8" stroke="#666" stroke-width="1.1" />
<line x1="1250" y1="586.3" x2="1250" y2="582.5" stroke="#666" stroke-width="1.1" />
<line x1="1250" y1="377" x2="1250" y2="380.8" stroke="#666" stroke-width="1.1" />
<line x1="1265.8" y1="586.3" x2="1265.8" y2="582.5" stroke="#666" stroke-width="1.1" />
<line x1="1265.8" y1="377" x2="1265.8" y2="380.8" stroke="#666" stroke-width="1.1" />
<line x1="1281.6" y1="586.3" x2="1281.6" y2="582.5" stroke="#666" stroke-width="1.1" />
<line x1="1281.6" y1="377" x2="1281.6" y2="380.8" stroke="#666" stroke-width="1.1" />
<line x1="1297.4" y1="586.3" x2="1297.4" y2="582.5" stroke="#666" stroke-width="1.1" />
<line x1="1297.4" y1="377" x2="1297.4" y2="380.8" stroke="#666" stroke-width="1.1" />
<line x1="1313.2" y1="586.3" x2="1313.2" y2="582.5" stroke="#666" stroke-width="1.1" />
<line x1="1313.2" y1="377" x2="1313.2" y2="380.8" stroke="#666" stroke-width="1.1" />
<text x="1250" y="604.8" font-family="'Liberation Sans', sans-serif" font-size="16.5" fill="#444" text-anchor="middle" textLength="22.6" lengthAdjust="spacingAndGlyphs" >1.0</text>
<text x="1313.25" y="604.8" font-family="'Liberation Sans', sans-serif" font-size="16.5" fill="#444" text-anchor="middle" textLength="22.6" lengthAdjust="spacingAndGlyphs" >1.2</text>
<line x1="955.5" y1="565.3" x2="958.3" y2="565.3" stroke="#666" stroke-width="1.1" />
<line x1="955.5" y1="544.3" x2="959" y2="544.3" stroke="#666" stroke-width="1.1" />
<line x1="955.5" y1="523.3" x2="958.3" y2="523.3" stroke="#666" stroke-width="1.1" />
<line x1="955.5" y1="502.3" x2="959" y2="502.3" stroke="#666" stroke-width="1.1" />
<line x1="955.5" y1="481.3" x2="958.3" y2="481.3" stroke="#666" stroke-width="1.1" />
<line x1="955.5" y1="460.3" x2="959" y2="460.3" stroke="#666" stroke-width="1.1" />
<line x1="955.5" y1="439.3" x2="958.3" y2="439.3" stroke="#666" stroke-width="1.1" />
<line x1="955.5" y1="418.3" x2="959" y2="418.3" stroke="#666" stroke-width="1.1" />
<line x1="955.5" y1="397.3" x2="958.3" y2="397.3" stroke="#666" stroke-width="1.1" />
<line x1="1076.7" y1="565.3" x2="1082.3" y2="565.3" stroke="#666" stroke-width="1.1" />
<line x1="1076" y1="544.3" x2="1083" y2="544.3" stroke="#666" stroke-width="1.1" />
<line x1="1076.7" y1="523.3" x2="1082.3" y2="523.3" stroke="#666" stroke-width="1.1" />
<line x1="1076" y1="502.3" x2="1083" y2="502.3" stroke="#666" stroke-width="1.1" />
<line x1="1076.7" y1="481.3" x2="1082.3" y2="481.3" stroke="#666" stroke-width="1.1" />
<line x1="1076" y1="460.3" x2="1083" y2="460.3" stroke="#666" stroke-width="1.1" />
<line x1="1076.7" y1="439.3" x2="1082.3" y2="439.3" stroke="#666" stroke-width="1.1" />
<line x1="1076" y1="418.3" x2="1083" y2="418.3" stroke="#666" stroke-width="1.1" />
<line x1="1076.7" y1="397.3" x2="1082.3" y2="397.3" stroke="#666" stroke-width="1.1" />
<line x1="1201.45" y1="565.3" x2="1207.05" y2="565.3" stroke="#666" stroke-width="1.1" />
<line x1="1200.75" y1="544.3" x2="1207.75" y2="544.3" stroke="#666" stroke-width="1.1" />
<line x1="1201.45" y1="523.3" x2="1207.05" y2="523.3" stroke="#666" stroke-width="1.1" />
<line x1="1200.75" y1="502.3" x2="1207.75" y2="502.3" stroke="#666" stroke-width="1.1" />
<line x1="1201.45" y1="481.3" x2="1207.05" y2="481.3" stroke="#666" stroke-width="1.1" />
<line x1="1200.75" y1="460.3" x2="1207.75" y2="460.3" stroke="#666" stroke-width="1.1" />
<line x1="1201.45" y1="439.3" x2="1207.05" y2="439.3" stroke="#666" stroke-width="1.1" />
<line x1="1200.75" y1="418.3" x2="1207.75" y2="418.3" stroke="#666" stroke-width="1.1" />
<line x1="1201.45" y1="397.3" x2="1207.05" y2="397.3" stroke="#666" stroke-width="1.1" />
<line x1="1324.7" y1="565.3" x2="1327.5" y2="565.3" stroke="#666" stroke-width="1.1" />
<line x1="1324" y1="544.3" x2="1327.5" y2="544.3" stroke="#666" stroke-width="1.1" />
<line x1="1324.7" y1="523.3" x2="1327.5" y2="523.3" stroke="#666" stroke-width="1.1" />
<line x1="1324" y1="502.3" x2="1327.5" y2="502.3" stroke="#666" stroke-width="1.1" />
<line x1="1324.7" y1="481.3" x2="1327.5" y2="481.3" stroke="#666" stroke-width="1.1" />
<line x1="1324" y1="460.3" x2="1327.5" y2="460.3" stroke="#666" stroke-width="1.1" />
<line x1="1324.7" y1="439.3" x2="1327.5" y2="439.3" stroke="#666" stroke-width="1.1" />
<line x1="1324" y1="418.3" x2="1327.5" y2="418.3" stroke="#666" stroke-width="1.1" />
<line x1="1324.7" y1="397.3" x2="1327.5" y2="397.3" stroke="#666" stroke-width="1.1" />
<text x="948.7" y="592.2" font-family="'Liberation Sans', sans-serif" font-size="16.5" fill="#444" text-anchor="end" textLength="10" lengthAdjust="spacingAndGlyphs" >0</text>
<text x="948.7" y="550.2" font-family="'Liberation Sans', sans-serif" font-size="16.5" fill="#444" text-anchor="end" textLength="23" lengthAdjust="spacingAndGlyphs" >0.5</text>
<text x="948.7" y="508.2" font-family="'Liberation Sans', sans-serif" font-size="16.5" fill="#444" text-anchor="end" textLength="23" lengthAdjust="spacingAndGlyphs" >1.0</text>
<text x="948.7" y="466.2" font-family="'Liberation Sans', sans-serif" font-size="16.5" fill="#444" text-anchor="end" textLength="23" lengthAdjust="spacingAndGlyphs" >1.5</text>
<text x="948.7" y="424.2" font-family="'Liberation Sans', sans-serif" font-size="16.5" fill="#444" text-anchor="end" textLength="23" lengthAdjust="spacingAndGlyphs" >2.0</text>
<text x="948.7" y="382.2" font-family="'Liberation Sans', sans-serif" font-size="16.5" fill="#444" text-anchor="end" textLength="23" lengthAdjust="spacingAndGlyphs" >2.5</text>
<text x="1143.7" y="625.5" font-family="'Liberation Sans', sans-serif" font-size="16.5" fill="#333" text-anchor="middle" textLength="90" lengthAdjust="spacingAndGlyphs" >Energy (eV)</text>
<text x="917" y="478.5" font-family="'Liberation Sans', sans-serif" font-size="16.5" fill="#333" text-anchor="middle" textLength="179" lengthAdjust="spacingAndGlyphs" transform="rotate(-90 917 478.5)" >Normalized PL Intensity</text>
<text x="986.2" y="371.2" font-family="'Liberation Sans', sans-serif" font-size="16" fill="#333" textLength="74" lengthAdjust="spacingAndGlyphs" >1L-MoTe<tspan font-size="10" dy="3">2</tspan></text>
<text x="1110" y="350" font-family="'Liberation Sans', sans-serif" font-size="16" fill="#bc5448" textLength="80" lengthAdjust="spacingAndGlyphs" >1L-MoTe<tspan font-size="10" dy="3">2</tspan><tspan dy="-3">/</tspan></text>
<text x="1110" y="370.5" font-family="'Liberation Sans', sans-serif" font-size="16" fill="#bc5448" textLength="70" lengthAdjust="spacingAndGlyphs" >1L-WSe<tspan font-size="10" dy="3">2</tspan></text>
<text x="1237" y="350" font-family="'Liberation Sans', sans-serif" font-size="16" fill="#3a9060" textLength="79" lengthAdjust="spacingAndGlyphs" >1L-MoTe<tspan font-size="10" dy="3">2</tspan><tspan dy="-3">/</tspan></text>
<text x="1237" y="370.5" font-family="'Liberation Sans', sans-serif" font-size="16" fill="#3a9060" textLength="70" lengthAdjust="spacingAndGlyphs" >2L-WSe<tspan font-size="10" dy="3">2</tspan></text>
<polygon points="956.3,586.3 956.3,586.3 956.8,586.3 957.3,586.3 957.8,586.3 958.3,586.3 958.8,586.3 959.3,586.3 959.8,586.3 960.3,586.3 960.8,586.3 961.3,586.3 961.8,586.3 962.3,586.3 962.8,586.3 963.3,586.3 963.8,586.3 964.3,586.3 964.8,586.3 965.3,586.3 965.8,586.3 966.3,586.3 966.8,586.3 967.3,586.3 967.8,586.3 968.3,586.3 968.8,586.3 969.3,586.3 969.8,586.3 970.3,586.3 970.8,586.3 971.3,586.3 971.8,586.3 972.3,586.3 972.8,586.3 973.3,586.3 973.8,586.3 974.3,586.3 974.8,586.3 975.3,586.3 975.8,586.3 976.3,586.3 976.8,586.3 977.3,586.3 977.8,586.3 978.3,586.3 978.8,586.3 979.3,586.3 979.8,586.3 980.3,586.3 980.8,586.3 981.3,586.3 981.8,586.3 982.3,586.3 982.8,586.3 983.3,586.3 983.8,586.3 984.3,586.3 984.8,586.3 985.3,586.3 985.8,586.3 986.3,586.3 986.8,586.3 987.3,586.3 987.8,586.3 988.3,586.3 988.8,586.3 989.3,586.3 989.8,586.3 990.3,586.3 990.8,586.3 991.3,586.3 991.8,586.3 992.3,586.3 992.8,586.3 993.3,586.3 993.8,586.3 994.3,586.3 994.8,586.3 995.3,586.3 995.8,586.3 996.3,586.3 996.8,586.3 997.3,586.3 997.8,586.3 998.3,586.3 998.8,586.3 999.3,586.3 999.8,586.3 1000.3,585.96 1000.8,585.9 1001.3,585.83 1001.8,585.74 1002.3,585.64 1002.8,585.52 1003.3,585.38 1003.8,585.23 1004.3,585.05 1004.8,584.84 1005.3,584.6 1005.8,584.33 1006.3,584.02 1006.8,583.67 1007.3,583.27 1007.8,582.83 1008.3,582.32 1008.8,581.76 1009.3,581.13 1009.8,580.43 1010.3,579.65 1010.8,578.78 1011.3,577.83 1011.8,576.78 1012.3,575.63 1012.8,574.38 1013.3,573.01 1013.8,571.53 1014.3,569.93 1014.8,568.21 1015.3,566.36 1015.8,564.39 1016.3,562.28 1016.8,560.06 1017.3,557.7 1017.8,555.23 1018.3,552.65 1018.8,549.96 1019.3,547.17 1019.8,544.3 1020.3,541.36 1020.8,538.35 1021.3,535.31 1021.8,532.25 1022.3,529.19 1022.8,526.16 1023.3,523.17 1023.8,520.26 1024.3,517.46 1024.8,514.79 1025.3,512.29 1025.8,509.98 1026.3,507.91 1026.8,506.1 1027.3,504.58 1027.8,503.41 1028.3,502.62 1028.8,502.3 1029.3,502.65 1029.8,503.5 1030.3,504.77 1030.8,506.41 1031.3,508.37 1031.8,510.61 1032.3,513.09 1032.8,515.77 1033.3,518.62 1033.8,521.61 1034.3,524.69 1034.8,527.85 1035.3,531.04 1035.8,534.25 1036.3,537.44 1036.8,540.59 1037.3,543.69 1037.8,546.71 1038.3,549.64 1038.8,552.47 1039.3,555.18 1039.8,557.76 1040.3,560.22 1040.8,562.53 1041.3,564.72 1041.8,566.76 1042.3,568.66 1042.8,570.43 1043.3,572.06 1043.8,573.57 1044.3,574.95 1044.8,576.21 1045.3,577.36 1045.8,578.4 1046.3,579.34 1046.8,580.18 1047.3,580.94 1047.8,581.62 1048.3,582.22 1048.8,582.76 1049.3,583.23 1049.8,583.65 1050.3,584.02 1050.8,584.34 1051.3,584.62 1051.8,584.87 1052.3,585.08 1052.8,585.27 1053.3,585.42 1053.8,585.56 1054.3,585.68 1054.8,585.78 1055.3,585.86 1055.8,585.93 1056.3,586.3 1056.8,586.3 1057.3,586.3 1057.8,586.3 1058.3,586.3 1058.8,586.3 1059.3,586.3 1059.8,586.3 1060.3,586.3 1060.8,586.3 1061.3,586.3 1061.8,586.3 1062.3,586.3 1062.8,586.3 1063.3,586.3 1063.8,586.3 1064.3,586.3 1064.8,586.3 1065.3,586.3 1065.8,586.3 1066.3,586.3 1066.8,586.3 1067.3,586.3 1067.8,586.3 1068.3,586.3 1068.8,586.3 1069.3,586.3 1069.8,586.3 1070.3,586.3 1070.8,586.3 1071.3,586.3 1071.8,586.3 1072.3,586.3 1072.8,586.3 1073.3,586.3 1073.8,586.3 1074.3,586.3 1074.8,586.3 1075.3,586.3 1075.8,586.3 1076.3,586.3 1076.8,586.3 1077.3,586.3 1077.8,586.3 1078.3,586.3 1078.3,586.3" fill="#c8c8c8" stroke="none"/>
<polyline points="1003.3,585.38 1003.8,585.23 1004.3,585.05 1004.8,584.84 1005.3,584.6 1005.8,584.33 1006.3,584.02 1006.8,583.67 1007.3,583.27 1007.8,582.83 1008.3,582.32 1008.8,581.76 1009.3,581.13 1009.8,580.43 1010.3,579.65 1010.8,578.78 1011.3,577.83 1011.8,576.78 1012.3,575.63 1012.8,574.38 1013.3,573.01 1013.8,571.53 1014.3,569.93 1014.8,568.21 1015.3,566.36 1015.8,564.39 1016.3,562.28 1016.8,560.06 1017.3,557.7 1017.8,555.23 1018.3,552.65 1018.8,549.96 1019.3,547.17 1019.8,544.3 1020.3,541.36 1020.8,538.35 1021.3,535.31 1021.8,532.25 1022.3,529.19 1022.8,526.16 1023.3,523.17 1023.8,520.26 1024.3,517.46 1024.8,514.79 1025.3,512.29 1025.8,509.98 1026.3,507.91 1026.8,506.1 1027.3,504.58 1027.8,503.41 1028.3,502.62 1028.8,502.3 1029.3,502.65 1029.8,503.5 1030.3,504.77 1030.8,506.41 1031.3,508.37 1031.8,510.61 1032.3,513.09 1032.8,515.77 1033.3,518.62 1033.8,521.61 1034.3,524.69 1034.8,527.85 1035.3,531.04 1035.8,534.25 1036.3,537.44 1036.8,540.59 1037.3,543.69 1037.8,546.71 1038.3,549.64 1038.8,552.47 1039.3,555.18 1039.8,557.76 1040.3,560.22 1040.8,562.53 1041.3,564.72 1041.8,566.76 1042.3,568.66 1042.8,570.43 1043.3,572.06 1043.8,573.57 1044.3,574.95 1044.8,576.21 1045.3,577.36 1045.8,578.4 1046.3,579.34 1046.8,580.18 1047.3,580.94 1047.8,581.62 1048.3,582.22 1048.8,582.76 1049.3,583.23 1049.8,583.65 1050.3,584.02 1050.8,584.34 1051.3,584.62 1051.8,584.87 1052.3,585.08 1052.8,585.27 1053.3,585.42" fill="none" stroke="#666" stroke-width="1.2" stroke-linejoin="round" stroke-linecap="round" stroke-dasharray="1.6,1.4"/>
<polyline points="956.3,585.73 956.8,585.13 957.3,586.3 957.8,585.01 958.3,585.87 958.8,586.23 959.3,586.22 959.8,586.3 960.3,585.9 960.8,585.35 961.3,585.46 961.8,585.41 962.3,586.3 962.8,586.3 963.3,584.9 963.8,585.18 964.3,584.55 964.8,585.02 965.3,586.13 965.8,584.94 966.3,585.25 966.8,585.44 967.3,585.94 967.8,585.51 968.3,585.56 968.8,585.01 969.3,585.38 969.8,584.61 970.3,585.78 970.8,585.12 971.3,585.08 971.8,585.74 972.3,585.87 972.8,584.73 973.3,584.95 973.8,585.25 974.3,584.94 974.8,585.44 975.3,584.94 975.8,585.32 976.3,584.88 976.8,584.43 977.3,585.05 977.8,584.4 978.3,585.3 978.8,584.87 979.3,585.35 979.8,584.65 980.3,584.5 980.8,584.58 981.3,584.55 981.8,583.67 982.3,583.55 982.8,584.81 983.3,583.53 983.8,584.91 984.3,584.34 984.8,583.97 985.3,583.75 985.8,584.25 986.3,584 986.8,583.51 987.3,583.81 987.8,583.7 988.3,582.96 988.8,582.74 989.3,583.15 989.8,583.03 990.3,582.96 990.8,583.1 991.3,583.04 991.8,583.23 992.3,582.3 992.8,582.59 993.3,582.54 993.8,582.3 994.3,582.06 994.8,581.54 995.3,582.33 995.8,582.33 996.3,581.96 996.8,582.43 997.3,581.3 997.8,581.42 998.3,581.47 998.8,581.83 999.3,581.33 999.8,581.12 1000.3,581.33 1000.8,581.66 1001.3,582.3 1001.8,580.9 1002.3,581.47 1002.8,581.63 1003.3,580.66 1003.8,580.82 1004.3,581.57 1004.8,580.76 1005.3,580.67 1005.8,579.83 1006.3,581.05 1006.8,580.02 1007.3,579.57 1007.8,578.42 1008.3,579.26 1008.8,579.7 1009.3,578.35 1009.8,576.86 1010.3,575.83 1010.8,574.51 1011.3,574.21 1011.8,573.71 1012.3,571.61 1012.8,570.65 1013.3,569.18 1013.8,567.32 1014.3,564.75 1014.8,563.71 1015.3,561.42 1015.8,558.39 1016.3,555.61 1016.8,552.99 1017.3,549.82 1017.8,545.76 1018.3,541.64 1018.8,538.13 1019.3,534.14 1019.8,529.7 1020.3,527.04 1020.8,522.39 1021.3,517.52 1021.8,513.26 1022.3,508.66 1022.8,503.68 1023.3,500.02 1023.8,495.41 1024.3,492.25 1024.8,488.02 1025.3,483.49 1025.8,481.48 1026.3,478.52 1026.8,476.31 1027.3,475.44 1027.8,474 1028.3,473.88 1028.8,473.96 1029.3,475.59 1029.8,477.56 1030.3,479.49 1030.8,481.91 1031.3,484.5 1031.8,488.41 1032.3,492.4 1032.8,496.45 1033.3,500.18 1033.8,505.56 1034.3,509.13 1034.8,515.19 1035.3,519.53 1035.8,523.41 1036.3,528.11 1036.8,533.2 1037.3,537.07 1037.8,541.45 1038.3,544.54 1038.8,548.36 1039.3,552.43 1039.8,555.09 1040.3,558.46 1040.8,561.06 1041.3,563.52 1041.8,566.15 1042.3,567.75 1042.8,569.62 1043.3,571.34 1043.8,572.53 1044.3,574.58 1044.8,576.4 1045.3,576.97 1045.8,577.56 1046.3,578.48 1046.8,578.92 1047.3,579.45 1047.8,580.47 1048.3,580.95 1048.8,581.82 1049.3,581.17 1049.8,582.15 1050.3,582.85 1050.8,583.11 1051.3,582.98 1051.8,582.18 1052.3,582.75 1052.8,584.15 1053.3,583.5 1053.8,583.43 1054.3,583.36 1054.8,583.61 1055.3,584.21 1055.8,583.77 1056.3,584.34 1056.8,585.26 1057.3,584.56 1057.8,584.62 1058.3,583.86 1058.8,583.87 1059.3,584.99 1059.8,584.43 1060.3,584.52 1060.8,585.34 1061.3,585.7 1061.8,584.76 1062.3,584.69 1062.8,585.1 1063.3,586.21 1063.8,584.89 1064.3,585.21 1064.8,585.4 1065.3,585.15 1065.8,585.59 1066.3,584.77 1066.8,585.08 1067.3,585.39 1067.8,585 1068.3,585.18 1068.8,585.96 1069.3,585.29 1069.8,585.48 1070.3,586.15 1070.8,585.62 1071.3,585.1 1071.8,585.65 1072.3,584.65 1072.8,584.52 1073.3,585.55 1073.8,585.14 1074.3,584.43 1074.8,585.62 1075.3,585.92 1075.8,585.7 1076.3,586.2 1076.8,586.2 1077.3,585.43 1077.8,585.76 1078.3,585.44" fill="none" stroke="#111111" stroke-width="2.8" stroke-linejoin="round" stroke-linecap="round" />
<polygon points="1080.3,586.3 1080.3,586.3 1080.8,586.3 1081.3,586.3 1081.8,586.3 1082.3,586.3 1082.8,586.3 1083.3,586.3 1083.8,586.3 1084.3,586.3 1084.8,586.3 1085.3,586.3 1085.8,586.3 1086.3,586.3 1086.8,586.3 1087.3,586.3 1087.8,586.3 1088.3,586.3 1088.8,586.3 1089.3,586.3 1089.8,586.3 1090.3,586.3 1090.8,586.3 1091.3,586.3 1091.8,586.3 1092.3,586.3 1092.8,586.3 1093.3,586.3 1093.8,586.3 1094.3,586.3 1094.8,586.3 1095.3,586.3 1095.8,586.3 1096.3,586.3 1096.8,586.3 1097.3,586.3 1097.8,586.3 1098.3,586.3 1098.8,586.3 1099.3,586.3 1099.8,586.3 1100.3,586.3 1100.8,586.3 1101.3,586.3 1101.8,586.3 1102.3,586.3 1102.8,586.3 1103.3,586.3 1103.8,586.3 1104.3,586.3 1104.8,586.3 1105.3,586.3 1105.8,586.3 1106.3,586.3 1106.8,586.3 1107.3,586.3 1107.8,586.3 1108.3,586.3 1108.8,586.3 1109.3,586.3 1109.8,586.3 1110.3,586.3 1110.8,586.3 1111.3,586.3 1111.8,586.3 1112.3,586.3 1112.8,586.3 1113.3,586.3 1113.8,586.3 1114.3,586.3 1114.8,586.3 1115.3,586.3 1115.8,586.3 1116.3,586.3 1116.8,586.3 1117.3,586.3 1117.8,586.3 1118.3,586.3 1118.8,585.95 1119.3,585.89 1119.8,585.81 1120.3,585.72 1120.8,585.62 1121.3,585.49 1121.8,585.35 1122.3,585.19 1122.8,585.01 1123.3,584.79 1123.8,584.55 1124.3,584.27 1124.8,583.95 1125.3,583.59 1125.8,583.19 1126.3,582.73 1126.8,582.22 1127.3,581.64 1127.8,580.99 1128.3,580.28 1128.8,579.48 1129.3,578.6 1129.8,577.63 1130.3,576.56 1130.8,575.39 1131.3,574.12 1131.8,572.73 1132.3,571.22 1132.8,569.6 1133.3,567.85 1133.8,565.98 1134.3,563.97 1134.8,561.85 1135.3,559.6 1135.8,557.22 1136.3,554.73 1136.8,552.12 1137.3,549.41 1137.8,546.6 1138.3,543.72 1138.8,540.76 1139.3,537.75 1139.8,534.7 1140.3,531.64 1140.8,528.58 1141.3,525.56 1141.8,522.58 1142.3,519.69 1142.8,516.92 1143.3,514.28 1143.8,511.81 1144.3,509.55 1144.8,507.52 1145.3,505.77 1145.8,504.32 1146.3,503.22 1146.8,502.51 1147.3,502.32 1147.8,502.78 1148.3,503.72 1148.8,505.07 1149.3,506.78 1149.8,508.8 1150.3,511.08 1150.8,513.61 1151.3,516.33 1151.8,519.21 1152.3,522.22 1152.8,525.32 1153.3,528.48 1153.8,531.68 1154.3,534.89 1154.8,538.07 1155.3,541.22 1155.8,544.3 1156.3,547.3 1156.8,550.21 1157.3,553.02 1157.8,555.7 1158.3,558.26 1158.8,560.69 1159.3,562.98 1159.8,565.13 1160.3,567.15 1160.8,569.03 1161.3,570.77 1161.8,572.37 1162.3,573.85 1162.8,575.21 1163.3,576.45 1163.8,577.57 1164.3,578.59 1164.8,579.51 1165.3,580.34 1165.8,581.08 1166.3,581.75 1166.8,582.34 1167.3,582.86 1167.8,583.32 1168.3,583.73 1168.8,584.09 1169.3,584.4 1169.8,584.68 1170.3,584.91 1170.8,585.12 1171.3,585.3 1171.8,585.45 1172.3,585.58 1172.8,585.7 1173.3,585.79 1173.8,585.88 1174.3,585.95 1174.8,586.3 1175.3,586.3 1175.8,586.3 1176.3,586.3 1176.8,586.3 1177.3,586.3 1177.8,586.3 1178.3,586.3 1178.8,586.3 1179.3,586.3 1179.8,586.3 1180.3,586.3 1180.8,586.3 1181.3,586.3 1181.8,586.3 1182.3,586.3 1182.8,586.3 1183.3,586.3 1183.8,586.3 1184.3,586.3 1184.8,586.3 1185.3,586.3 1185.8,586.3 1186.3,586.3 1186.8,586.3 1187.3,586.3 1187.8,586.3 1188.3,586.3 1188.8,586.3 1189.3,586.3 1189.8,586.3 1190.3,586.3 1190.8,586.3 1191.3,586.3 1191.8,586.3 1192.3,586.3 1192.8,586.3 1193.3,586.3 1193.8,586.3 1194.3,586.3 1194.8,586.3 1195.3,586.3 1195.8,586.3 1196.3,586.3 1196.8,586.3 1197.3,586.3 1197.8,586.3 1198.3,586.3 1198.8,586.3 1199.3,586.3 1199.8,586.3 1200.3,586.3 1200.8,586.3 1201.3,586.3 1201.8,586.3 1202.3,586.3 1202.3,586.3" fill="#c8c8c8" stroke="none"/>
<polyline points="1121.8,585.35 1122.3,585.19 1122.8,585.01 1123.3,584.79 1123.8,584.55 1124.3,584.27 1124.8,583.95 1125.3,583.59 1125.8,583.19 1126.3,582.73 1126.8,582.22 1127.3,581.64 1127.8,580.99 1128.3,580.28 1128.8,579.48 1129.3,578.6 1129.8,577.63 1130.3,576.56 1130.8,575.39 1131.3,574.12 1131.8,572.73 1132.3,571.22 1132.8,569.6 1133.3,567.85 1133.8,565.98 1134.3,563.97 1134.8,561.85 1135.3,559.6 1135.8,557.22 1136.3,554.73 1136.8,552.12 1137.3,549.41 1137.8,546.6 1138.3,543.72 1138.8,540.76 1139.3,537.75 1139.8,534.7 1140.3,531.64 1140.8,528.58 1141.3,525.56 1141.8,522.58 1142.3,519.69 1142.8,516.92 1143.3,514.28 1143.8,511.81 1144.3,509.55 1144.8,507.52 1145.3,505.77 1145.8,504.32 1146.3,503.22 1146.8,502.51 1147.3,502.32 1147.8,502.78 1148.3,503.72 1148.8,505.07 1149.3,506.78 1149.8,508.8 1150.3,511.08 1150.8,513.61 1151.3,516.33 1151.8,519.21 1152.3,522.22 1152.8,525.32 1153.3,528.48 1153.8,531.68 1154.3,534.89 1154.8,538.07 1155.3,541.22 1155.8,544.3 1156.3,547.3 1156.8,550.21 1157.3,553.02 1157.8,555.7 1158.3,558.26 1158.8,560.69 1159.3,562.98 1159.8,565.13 1160.3,567.15 1160.8,569.03 1161.3,570.77 1161.8,572.37 1162.3,573.85 1162.8,575.21 1163.3,576.45 1163.8,577.57 1164.3,578.59 1164.8,579.51 1165.3,580.34 1165.8,581.08 1166.3,581.75 1166.8,582.34 1167.3,582.86 1167.8,583.32 1168.3,583.73 1168.8,584.09 1169.3,584.4 1169.8,584.68 1170.3,584.91 1170.8,585.12 1171.3,585.3 1171.8,585.45" fill="none" stroke="#666" stroke-width="1.2" stroke-linejoin="round" stroke-linecap="round" stroke-dasharray="1.6,1.4"/>
<polyline points="1080.3,585.53 1080.8,586.14 1081.3,585.83 1081.8,585.85 1082.3,586.03 1082.8,586.1 1083.3,585.49 1083.8,585.7 1084.3,585.44 1084.8,585.08 1085.3,585.05 1085.8,586.1 1086.3,585.94 1086.8,585.62 1087.3,585.4 1087.8,584.96 1088.3,585.89 1088.8,585.6 1089.3,585.22 1089.8,584.7 1090.3,584.59 1090.8,585.76 1091.3,585.32 1091.8,585.59 1092.3,584.71 1092.8,584.87 1093.3,585.24 1093.8,585.32 1094.3,584.82 1094.8,584.43 1095.3,585.26 1095.8,584.98 1096.3,584.7 1096.8,584.69 1097.3,584.47 1097.8,585.08 1098.3,584.81 1098.8,585.5 1099.3,584.34 1099.8,583.75 1100.3,585.25 1100.8,584.45 1101.3,583.6 1101.8,584.04 1102.3,584.83 1102.8,583.19 1103.3,584.41 1103.8,582.9 1104.3,583.79 1104.8,583.75 1105.3,583.28 1105.8,583.2 1106.3,582.78 1106.8,582.72 1107.3,582.94 1107.8,582.1 1108.3,582.3 1108.8,582.41 1109.3,582.38 1109.8,582.39 1110.3,582.28 1110.8,581.8 1111.3,581.8 1111.8,581.92 1112.3,581.33 1112.8,581.88 1113.3,581.44 1113.8,581.14 1114.3,582.05 1114.8,581.54 1115.3,580.49 1115.8,581.73 1116.3,580.6 1116.8,581.64 1117.3,580.83 1117.8,581.5 1118.3,581.21 1118.8,581.03 1119.3,581.05 1119.8,580.2 1120.3,580.22 1120.8,580.13 1121.3,580.4 1121.8,579.59 1122.3,579.81 1122.8,580.07 1123.3,580.66 1123.8,579.67 1124.3,579.56 1124.8,579.69 1125.3,579.2 1125.8,578.97 1126.3,579.27 1126.8,578.56 1127.3,578.34 1127.8,577.98 1128.3,577.86 1128.8,577.4 1129.3,576.5 1129.8,575.12 1130.3,573.84 1130.8,574.24 1131.3,573.47 1131.8,571.83 1132.3,570.6 1132.8,568.71 1133.3,566.39 1133.8,564.88 1134.3,561.68 1134.8,558.87 1135.3,555.47 1135.8,551.97 1136.3,548.69 1136.8,544.02 1137.3,541.05 1137.8,535.94 1138.3,530.93 1138.8,525.42 1139.3,519.45 1139.8,514.18 1140.3,506.96 1140.8,500.8 1141.3,494.74 1141.8,488.08 1142.3,482.18 1142.8,476.39 1143.3,468.78 1143.8,462.42 1144.3,456.64 1144.8,451.91 1145.3,446.73 1145.8,441.41 1146.3,438.44 1146.8,435.83 1147.3,434.5 1147.8,433.12 1148.3,432.96 1148.8,434.4 1149.3,437.19 1149.8,440.01 1150.3,444.65 1150.8,449.19 1151.3,454.22 1151.8,460.81 1152.3,467.1 1152.8,473.02 1153.3,480.76 1153.8,487.33 1154.3,494.91 1154.8,502.28 1155.3,508.51 1155.8,515.28 1156.3,522.43 1156.8,528.04 1157.3,533.32 1157.8,537.68 1158.3,543.63 1158.8,547.9 1159.3,551.73 1159.8,555.68 1160.3,559.41 1160.8,561.45 1161.3,564.37 1161.8,568.68 1162.3,569.12 1162.8,571.21 1163.3,572.63 1163.8,574.51 1164.3,575.38 1164.8,575.9 1165.3,576.93 1165.8,577.69 1166.3,578.74 1166.8,579.4 1167.3,579.9 1167.8,581.37 1168.3,580.05 1168.8,581.4 1169.3,581.65 1169.8,582 1170.3,582.05 1170.8,583.55 1171.3,582.56 1171.8,583.47 1172.3,583.48 1172.8,584.05 1173.3,584.1 1173.8,583.07 1174.3,583.72 1174.8,583.62 1175.3,583.75 1175.8,584.34 1176.3,584.2 1176.8,584.55 1177.3,584.16 1177.8,585.18 1178.3,584.34 1178.8,583.75 1179.3,583.67 1179.8,583.76 1180.3,584.14 1180.8,584.95 1181.3,584.04 1181.8,584.29 1182.3,584.46 1182.8,585.25 1183.3,584.49 1183.8,584.03 1184.3,584.4 1184.8,584.93 1185.3,584.58 1185.8,584.89 1186.3,584.83 1186.8,584.53 1187.3,584.82 1187.8,584.99 1188.3,584.86 1188.8,585.49 1189.3,585.61 1189.8,584.9 1190.3,585.46 1190.8,584.91 1191.3,586.14 1191.8,584.64 1192.3,585.31 1192.8,584.45 1193.3,586.3 1193.8,586.17 1194.3,584.64 1194.8,585.29 1195.3,585.23 1195.8,585.34 1196.3,585.34 1196.8,585.17 1197.3,585.96 1197.8,585.56 1198.3,584.84 1198.8,585.41 1199.3,585.83 1199.8,585.48 1200.3,585.02 1200.8,585.66 1201.3,585.66 1201.8,585.34 1202.3,585.17" fill="none" stroke="#b83030" stroke-width="2.8" stroke-linejoin="round" stroke-linecap="round" />
<polygon points="1205.05,586.3 1205.05,586.3 1205.55,586.3 1206.05,586.3 1206.55,586.3 1207.05,586.3 1207.55,586.3 1208.05,586.3 1208.55,586.3 1209.05,586.3 1209.55,586.3 1210.05,586.3 1210.55,586.3 1211.05,586.3 1211.55,586.3 1212.05,586.3 1212.55,586.3 1213.05,586.3 1213.55,586.3 1214.05,586.3 1214.55,586.3 1215.05,586.3 1215.55,586.3 1216.05,586.3 1216.55,586.3 1217.05,586.3 1217.55,586.3 1218.05,586.3 1218.55,586.3 1219.05,586.3 1219.55,586.3 1220.05,586.3 1220.55,586.3 1221.05,586.3 1221.55,586.3 1222.05,586.3 1222.55,586.3 1223.05,586.3 1223.55,586.3 1224.05,586.3 1224.55,586.3 1225.05,586.3 1225.55,586.3 1226.05,586.3 1226.55,586.3 1227.05,586.3 1227.55,586.3 1228.05,586.3 1228.55,586.3 1229.05,586.3 1229.55,586.3 1230.05,586.3 1230.55,586.3 1231.05,586.3 1231.55,586.3 1232.05,586.3 1232.55,586.3 1233.05,586.3 1233.55,586.3 1234.05,586.3 1234.55,586.3 1235.05,586.3 1235.55,586.3 1236.05,586.3 1236.55,586.3 1237.05,586.3 1237.55,586.3 1238.05,586.3 1238.55,586.3 1239.05,586.3 1239.55,586.3 1240.05,586.3 1240.55,586.3 1241.05,586.3 1241.55,586.3 1242.05,586.3 1242.55,586.3 1243.05,586.3 1243.55,585.91 1244.05,585.84 1244.55,585.75 1245.05,585.65 1245.55,585.54 1246.05,585.41 1246.55,585.25 1247.05,585.08 1247.55,584.88 1248.05,584.64 1248.55,584.38 1249.05,584.08 1249.55,583.74 1250.05,583.35 1250.55,582.92 1251.05,582.43 1251.55,581.88 1252.05,581.27 1252.55,580.59 1253.05,579.83 1253.55,579 1254.05,578.07 1254.55,577.06 1255.05,575.94 1255.55,574.73 1256.05,573.41 1256.55,571.98 1257.05,570.43 1257.55,568.76 1258.05,566.97 1258.55,565.07 1259.05,563.04 1259.55,560.88 1260.05,558.62 1260.55,556.23 1261.05,553.74 1261.55,551.15 1262.05,548.47 1262.55,545.7 1263.05,542.87 1263.55,539.98 1264.05,537.06 1264.55,534.12 1265.05,531.18 1265.55,528.27 1266.05,525.41 1266.55,522.63 1267.05,519.95 1267.55,517.41 1268.05,515.02 1268.55,512.83 1269.05,510.86 1269.55,509.15 1270.05,507.72 1270.55,506.63 1271.05,505.91 1271.55,505.67 1272.05,506.06 1272.55,506.92 1273.05,508.18 1273.55,509.78 1274.05,511.69 1274.55,513.86 1275.05,516.26 1275.55,518.86 1276.05,521.61 1276.55,524.49 1277.05,527.46 1277.55,530.49 1278.05,533.56 1278.55,536.64 1279.05,539.7 1279.55,542.72 1280.05,545.69 1280.55,548.58 1281.05,551.38 1281.55,554.08 1282.05,556.67 1282.55,559.14 1283.05,561.49 1283.55,563.7 1284.05,565.78 1284.55,567.73 1285.05,569.54 1285.55,571.23 1286.05,572.78 1286.55,574.21 1287.05,575.53 1287.55,576.73 1288.05,577.82 1288.55,578.81 1289.05,579.7 1289.55,580.5 1290.05,581.22 1290.55,581.87 1291.05,582.44 1291.55,582.95 1292.05,583.4 1292.55,583.8 1293.05,584.14 1293.55,584.45 1294.05,584.72 1294.55,584.95 1295.05,585.15 1295.55,585.32 1296.05,585.47 1296.55,585.6 1297.05,585.71 1297.55,585.81 1298.05,585.89 1298.55,585.95 1299.05,586.3 1299.55,586.3 1300.05,586.3 1300.55,586.3 1301.05,586.3 1301.55,586.3 1302.05,586.3 1302.55,586.3 1303.05,586.3 1303.55,586.3 1304.05,586.3 1304.55,586.3 1305.05,586.3 1305.55,586.3 1306.05,586.3 1306.55,586.3 1307.05,586.3 1307.55,586.3 1308.05,586.3 1308.55,586.3 1309.05,586.3 1309.55,586.3 1310.05,586.3 1310.55,586.3 1311.05,586.3 1311.55,586.3 1312.05,586.3 1312.55,586.3 1313.05,586.3 1313.55,586.3 1314.05,586.3 1314.55,586.3 1315.05,586.3 1315.55,586.3 1316.05,586.3 1316.55,586.3 1317.05,586.3 1317.55,586.3 1318.05,586.3 1318.55,586.3 1319.05,586.3 1319.55,586.3 1320.05,586.3 1320.55,586.3 1321.05,586.3 1321.55,586.3 1322.05,586.3 1322.55,586.3 1323.05,586.3 1323.55,586.3 1324.05,586.3 1324.55,586.3 1325.05,586.3 1325.55,586.3 1326.05,586.3 1326.55,586.3 1327.05,586.3 1327.05,586.3" fill="#c8c8c8" stroke="none"/>
<polyline points="1246.05,585.41 1246.55,585.25 1247.05,585.08 1247.55,584.88 1248.05,584.64 1248.55,584.38 1249.05,584.08 1249.55,583.74 1250.05,583.35 1250.55,582.92 1251.05,582.43 1251.55,581.88 1252.05,581.27 1252.55,580.59 1253.05,579.83 1253.55,579 1254.05,578.07 1254.55,577.06 1255.05,575.94 1255.55,574.73 1256.05,573.41 1256.55,571.98 1257.05,570.43 1257.55,568.76 1258.05,566.97 1258.55,565.07 1259.05,563.04 1259.55,560.88 1260.05,558.62 1260.55,556.23 1261.05,553.74 1261.55,551.15 1262.05,548.47 1262.55,545.7 1263.05,542.87 1263.55,539.98 1264.05,537.06 1264.55,534.12 1265.05,531.18 1265.55,528.27 1266.05,525.41 1266.55,522.63 1267.05,519.95 1267.55,517.41 1268.05,515.02 1268.55,512.83 1269.05,510.86 1269.55,509.15 1270.05,507.72 1270.55,506.63 1271.05,505.91 1271.55,505.67 1272.05,506.06 1272.55,506.92 1273.05,508.18 1273.55,509.78 1274.05,511.69 1274.55,513.86 1275.05,516.26 1275.55,518.86 1276.05,521.61 1276.55,524.49 1277.05,527.46 1277.55,530.49 1278.05,533.56 1278.55,536.64 1279.05,539.7 1279.55,542.72 1280.05,545.69 1280.55,548.58 1281.05,551.38 1281.55,554.08 1282.05,556.67 1282.55,559.14 1283.05,561.49 1283.55,563.7 1284.05,565.78 1284.55,567.73 1285.05,569.54 1285.55,571.23 1286.05,572.78 1286.55,574.21 1287.05,575.53 1287.55,576.73 1288.05,577.82 1288.55,578.81 1289.05,579.7 1289.55,580.5 1290.05,581.22 1290.55,581.87 1291.05,582.44 1291.55,582.95 1292.05,583.4 1292.55,583.8 1293.05,584.14 1293.55,584.45 1294.05,584.72 1294.55,584.95 1295.05,585.15 1295.55,585.32" fill="none" stroke="#666" stroke-width="1.2" stroke-linejoin="round" stroke-linecap="round" stroke-dasharray="1.6,1.4"/>
<polyline points="1205.05,584.07 1205.55,585.78 1206.05,585.23 1206.55,584.43 1207.05,586.3 1207.55,585.34 1208.05,584.96 1208.55,585.51 1209.05,586.3 1209.55,584.7 1210.05,583.95 1210.55,585.35 1211.05,585.73 1211.55,585.4 1212.05,583.43 1212.55,583.72 1213.05,584.97 1213.55,586.16 1214.05,586.29 1214.55,585.21 1215.05,585.14 1215.55,584.45 1216.05,585.9 1216.55,584.74 1217.05,583.95 1217.55,586.29 1218.05,581.88 1218.55,583.67 1219.05,583.64 1219.55,585.53 1220.05,585.14 1220.55,582.81 1221.05,582.85 1221.55,586.3 1222.05,582.33 1222.55,582.68 1223.05,582.66 1223.55,584.42 1224.05,582.79 1224.55,583.59 1225.05,582.17 1225.55,580.63 1226.05,581.78 1226.55,581.21 1227.05,582.49 1227.55,583.09 1228.05,581.79 1228.55,580.49 1229.05,579.84 1229.55,581.33 1230.05,580.8 1230.55,581.33 1231.05,582.58 1231.55,580.43 1232.05,579.96 1232.55,580.61 1233.05,580.16 1233.55,581.76 1234.05,579.56 1234.55,577.95 1235.05,579.31 1235.55,578.48 1236.05,578.49 1236.55,579.65 1237.05,578.46 1237.55,579.44 1238.05,575.25 1238.55,578.08 1239.05,579.38 1239.55,579.76 1240.05,576.37 1240.55,577.24 1241.05,577.39 1241.55,579.24 1242.05,578.3 1242.55,578.95 1243.05,576.37 1243.55,578.08 1244.05,575.36 1244.55,576.85 1245.05,577.72 1245.55,575.86 1246.05,579.55 1246.55,578.12 1247.05,577.59 1247.55,575.91 1248.05,575.82 1248.55,576.5 1249.05,578.7 1249.55,577.19 1250.05,577.64 1250.55,574.86 1251.05,576.44 1251.55,575 1252.05,573.24 1252.55,574.89 1253.05,573.51 1253.55,574.04 1254.05,572.81 1254.55,571.91 1255.05,570.88 1255.55,569.58 1256.05,568.64 1256.55,564.5 1257.05,565.32 1257.55,562.15 1258.05,560.24 1258.55,559.54 1259.05,552.83 1259.55,550.07 1260.05,547.86 1260.55,542.78 1261.05,538.95 1261.55,531.66 1262.05,524.62 1262.55,518.93 1263.05,515.2 1263.55,508.83 1264.05,499.21 1264.55,490.48 1265.05,484.57 1265.55,475.62 1266.05,470.35 1266.55,461 1267.05,452.56 1267.55,445.86 1268.05,438.35 1268.55,430.5 1269.05,425.66 1269.55,420.49 1270.05,413.85 1270.55,410.61 1271.05,409.21 1271.55,406.01 1272.05,406.63 1272.55,406.12 1273.05,408.94 1273.55,412.59 1274.05,417.62 1274.55,422.07 1275.05,428.73 1275.55,433.72 1276.05,443.52 1276.55,453.04 1277.05,457.68 1277.55,470.68 1278.05,475.18 1278.55,486.38 1279.05,492.2 1279.55,501.93 1280.05,508.82 1280.55,516.68 1281.05,523.71 1281.55,529.44 1282.05,536.67 1282.55,540.92 1283.05,547.61 1283.55,551.76 1284.05,555.58 1284.55,558.78 1285.05,560.57 1285.55,565.67 1286.05,568.2 1286.55,570.68 1287.05,571.8 1287.55,572.39 1288.05,575.24 1288.55,575.97 1289.05,577.34 1289.55,577.51 1290.05,580.57 1290.55,578.39 1291.05,578.59 1291.55,581.01 1292.05,580.6 1292.55,581.88 1293.05,580.12 1293.55,580.81 1294.05,578.58 1294.55,582.2 1295.05,583.13 1295.55,582.88 1296.05,583.9 1296.55,582.45 1297.05,582.48 1297.55,581.94 1298.05,582.63 1298.55,583.64 1299.05,581.88 1299.55,582.76 1300.05,582.58 1300.55,584.86 1301.05,584.58 1301.55,584.45 1302.05,584.26 1302.55,586.29 1303.05,582.66 1303.55,584.27 1304.05,583.18 1304.55,583.32 1305.05,582.59 1305.55,583.65 1306.05,583.92 1306.55,585.19 1307.05,584.3 1307.55,582.56 1308.05,586.3 1308.55,585.34 1309.05,584.31 1309.55,582.88 1310.05,585.88 1310.55,585.21 1311.05,584.59 1311.55,581.4 1312.05,585.77 1312.55,585.02 1313.05,584.07 1313.55,585.68 1314.05,584.52 1314.55,584.51 1315.05,585.38 1315.55,584.63 1316.05,583.16 1316.55,584.93 1317.05,585.55 1317.55,585.92 1318.05,584.88 1318.55,584.02 1319.05,585.01 1319.55,584.85 1320.05,582.32 1320.55,586.06 1321.05,586.3 1321.55,584.97 1322.05,585.52 1322.55,584.68 1323.05,583.97 1323.55,584.95 1324.05,585.57 1324.55,584.8 1325.05,584.86 1325.55,585.5 1326.05,586.04 1326.55,584.7 1327.05,585.66" fill="none" stroke="#3da544" stroke-width="2.8" stroke-linejoin="round" stroke-linecap="round" />
</svg></body></html>
